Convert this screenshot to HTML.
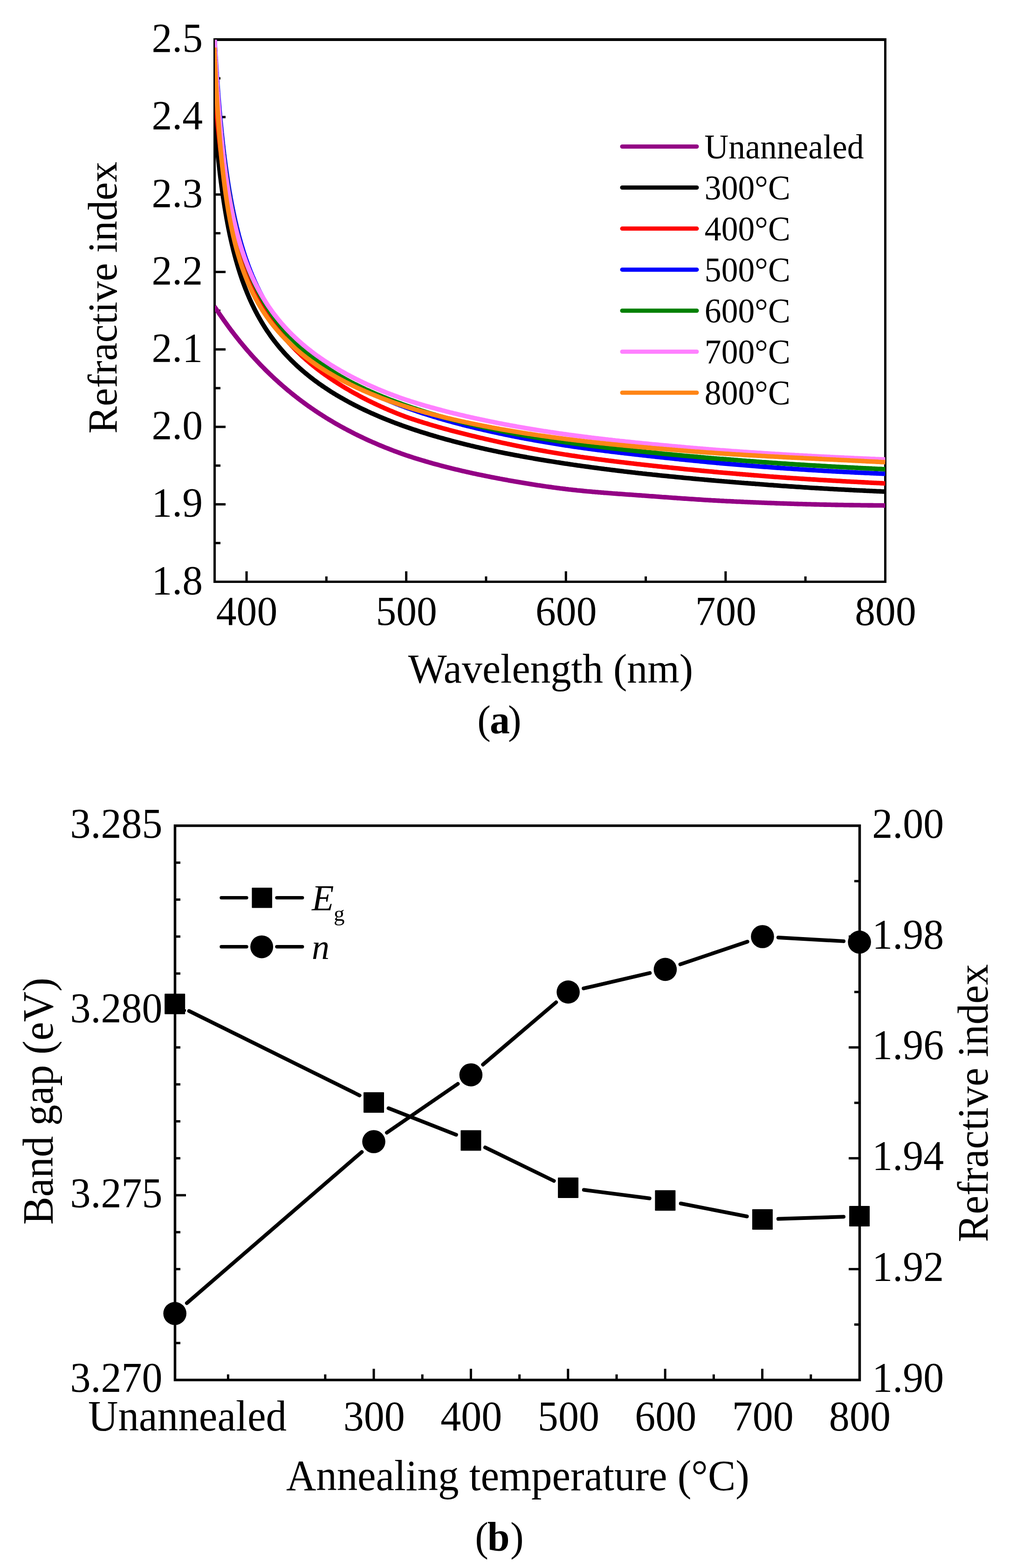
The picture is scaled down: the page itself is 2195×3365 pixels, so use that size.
<!DOCTYPE html>
<html><head><meta charset="utf-8"><title>Figure</title>
<style>html,body{margin:0;padding:0;background:#fff}body{width:2195px;height:3365px;overflow:hidden}</style>
</head><body>
<svg width="2195" height="3365" viewBox="0 0 2195 3365" style="display:block">
<rect width="2195" height="3365" fill="#fff"/>
<g font-family='"Liberation Serif","Times New Roman",serif' fill="#000">
<g stroke="#000" stroke-width="5" fill="none" stroke-linecap="square">
<path d="M460.5,85.0H1899.5V1248.5H460.5Z" stroke-linejoin="miter"/>
<path d="M458.0,85.0H1902.0" stroke-width="6" stroke-linecap="butt"/>
<path d="M458.0,1165.39h15" stroke-linecap="butt"/>
<path d="M458.0,1082.29h26" stroke-linecap="butt"/>
<path d="M458.0,999.18h15" stroke-linecap="butt"/>
<path d="M458.0,916.07h26" stroke-linecap="butt"/>
<path d="M458.0,832.96h15" stroke-linecap="butt"/>
<path d="M458.0,749.86h26" stroke-linecap="butt"/>
<path d="M458.0,666.75h15" stroke-linecap="butt"/>
<path d="M458.0,583.64h26" stroke-linecap="butt"/>
<path d="M458.0,500.54h15" stroke-linecap="butt"/>
<path d="M458.0,417.43h26" stroke-linecap="butt"/>
<path d="M458.0,334.32h15" stroke-linecap="butt"/>
<path d="M458.0,251.21h26" stroke-linecap="butt"/>
<path d="M458.0,168.11h15" stroke-linecap="butt"/>
<path d="M529.02,1251.0v-25" stroke-linecap="butt"/>
<path d="M700.33,1251.0v-14" stroke-linecap="butt"/>
<path d="M871.64,1251.0v-25" stroke-linecap="butt"/>
<path d="M1042.95,1251.0v-14" stroke-linecap="butt"/>
<path d="M1214.26,1251.0v-25" stroke-linecap="butt"/>
<path d="M1385.57,1251.0v-14" stroke-linecap="butt"/>
<path d="M1556.88,1251.0v-25" stroke-linecap="butt"/>
<path d="M1728.19,1251.0v-14" stroke-linecap="butt"/>
</g>
<defs><clipPath id="ca"><rect x="461.0" y="85.0" width="1438.5" height="1163.5"/></clipPath></defs>
<g clip-path="url(#ca)" fill="none" stroke-width="9.8" stroke-linejoin="round">
<polyline points="459.8,657.5 461.5,660.0 463.3,662.5 465.0,665.1 466.7,667.6 468.5,670.2 470.2,672.7 471.9,675.2 473.7,677.8 475.4,680.3 477.1,682.7 478.9,685.2 480.6,687.7 482.4,690.2 484.2,692.7 486.0,695.2 487.8,697.7 489.6,700.2 491.4,702.6 493.2,705.0 495.0,707.5 496.9,710.0 498.8,712.4 500.7,714.9 502.5,717.3 504.4,719.7 506.3,722.1 508.2,724.5 510.0,726.9 511.9,729.2 513.9,731.7 515.8,734.1 517.8,736.4 519.7,738.8 521.7,741.2 523.6,743.5 525.6,745.8 527.5,748.1 529.5,750.5 531.5,752.8 533.6,755.1 535.6,757.4 537.6,759.7 539.6,762.0 541.6,764.2 543.7,766.5 545.7,768.7 547.8,771.0 549.9,773.2 552.0,775.5 554.1,777.7 556.1,779.9 558.2,782.1 560.3,784.3 562.4,786.4 564.6,788.6 566.8,790.8 568.9,793.0 571.1,795.2 573.2,797.3 575.4,799.4 577.6,801.5 579.7,803.6 582.0,805.7 584.2,807.9 586.5,810.0 588.7,812.1 590.9,814.1 593.2,816.2 595.4,818.2 597.6,820.2 599.9,822.3 602.3,824.3 604.6,826.4 606.9,828.4 609.2,830.4 611.5,832.3 613.8,834.3 616.1,836.2 618.4,838.2 620.8,840.1 623.2,842.1 625.6,844.0 627.9,845.9 630.3,847.8 632.7,849.7 635.1,851.6 637.5,853.4 639.9,855.3 642.3,857.2 644.8,859.0 647.2,860.8 649.7,862.7 652.1,864.5 654.6,866.3 657.0,868.1 659.5,869.8 661.9,871.6 664.4,873.3 666.9,875.1 669.4,876.8 672.0,878.5 674.5,880.3 677.0,882.0 679.5,883.6 682.1,885.3 684.6,887.0 687.1,888.6 689.6,890.2 692.2,891.9 694.8,893.5 697.4,895.2 700.0,896.8 702.6,898.4 705.2,900.0 707.8,901.5 710.4,903.1 713.0,904.6 715.6,906.2 718.2,907.7 720.8,909.2 723.5,910.7 726.2,912.2 728.8,913.7 731.5,915.2 734.2,916.7 736.8,918.1 739.5,919.6 742.2,921.0 744.8,922.4 747.5,923.8 750.2,925.2 752.9,926.6 755.5,928.0 758.3,929.4 761.0,930.8 763.7,932.1 766.5,933.5 769.2,934.8 772.0,936.2 774.7,937.5 777.5,938.8 780.2,940.1 782.9,941.4 785.7,942.7 788.4,943.9 791.2,945.2 793.9,946.4 796.7,947.6 799.5,948.9 802.3,950.1 805.1,951.3 807.9,952.5 810.7,953.7 813.5,954.9 816.4,956.1 819.2,957.3 822.0,958.4 824.8,959.6 827.6,960.7 830.4,961.8 833.2,962.9 836.1,964.0 838.9,965.1 841.7,966.2 844.5,967.3 847.3,968.3 850.1,969.4 853.0,970.4 855.9,971.5 858.8,972.5 861.7,973.6 864.6,974.6 867.4,975.6 870.3,976.6 873.2,977.6 876.1,978.5 879.0,979.5 881.9,980.4 884.8,981.4 887.6,982.3 890.5,983.2 893.4,984.1 896.3,985.0 899.2,985.9 902.1,986.8 905.0,987.6 907.9,988.5 910.7,989.3 913.6,990.2 916.5,991.0 919.4,991.9 922.3,992.7 925.2,993.5 928.1,994.4 931.1,995.2 934.0,996.0 937.0,996.8 940.0,997.6 942.9,998.4 945.9,999.2 948.8,1000.0 951.8,1000.8 954.8,1001.5 957.7,1002.3 960.7,1003.0 963.6,1003.8 966.6,1004.5 969.5,1005.3 972.5,1006.0 975.5,1006.7 978.4,1007.4 981.4,1008.1 984.3,1008.8 987.3,1009.5 990.3,1010.2 993.2,1010.9 996.2,1011.6 999.1,1012.3 1002.1,1012.9 1005.0,1013.6 1008.0,1014.3 1011.0,1014.9 1013.9,1015.6 1016.9,1016.2 1019.8,1016.8 1022.8,1017.5 1025.8,1018.1 1028.7,1018.7 1031.7,1019.3 1034.6,1019.9 1037.6,1020.5 1040.6,1021.1 1043.5,1021.7 1046.5,1022.3 1049.4,1022.9 1052.4,1023.5 1055.3,1024.1 1058.3,1024.6 1061.3,1025.2 1064.2,1025.8 1067.2,1026.4 1070.1,1026.9 1073.1,1027.5 1076.1,1028.0 1079.0,1028.6 1082.0,1029.1 1084.9,1029.7 1087.9,1030.2 1090.8,1030.8 1093.8,1031.3 1096.8,1031.8 1099.7,1032.3 1102.7,1032.9 1105.6,1033.4 1108.6,1033.9 1111.6,1034.4 1114.5,1034.9 1117.5,1035.4 1120.4,1035.9 1123.5,1036.4 1126.5,1036.9 1129.5,1037.4 1132.6,1037.9 1135.6,1038.4 1138.6,1038.9 1141.6,1039.4 1144.7,1039.9 1147.7,1040.3 1150.7,1040.8 1153.8,1041.3 1156.8,1041.7 1159.8,1042.2 1162.9,1042.6 1165.9,1043.1 1168.9,1043.5 1172.0,1044.0 1175.0,1044.4 1178.0,1044.8 1181.0,1045.2 1184.1,1045.7 1187.1,1046.1 1190.1,1046.5 1193.2,1046.9 1196.2,1047.3 1199.2,1047.7 1202.3,1048.1 1205.3,1048.4 1208.3,1048.8 1211.4,1049.2 1214.4,1049.6 1217.4,1049.9 1220.4,1050.3 1223.5,1050.6 1226.5,1051.0 1229.5,1051.3 1232.6,1051.6 1235.6,1051.9 1238.6,1052.3 1241.7,1052.6 1244.7,1052.9 1247.7,1053.2 1250.8,1053.5 1253.8,1053.8 1256.8,1054.1 1259.8,1054.4 1262.9,1054.6 1265.9,1054.9 1268.9,1055.2 1272.0,1055.5 1275.0,1055.7 1278.0,1056.0 1281.1,1056.2 1284.1,1056.5 1287.1,1056.7 1290.2,1057.0 1293.2,1057.2 1296.2,1057.5 1299.2,1057.7 1302.3,1057.9 1305.3,1058.2 1308.3,1058.4 1311.4,1058.6 1314.4,1058.9 1317.4,1059.1 1320.5,1059.3 1323.5,1059.5 1326.5,1059.8 1329.5,1060.0 1332.6,1060.2 1335.6,1060.4 1338.6,1060.6 1341.7,1060.9 1344.7,1061.1 1347.7,1061.3 1350.8,1061.5 1353.8,1061.7 1356.8,1061.9 1359.9,1062.2 1362.9,1062.4 1365.9,1062.6 1368.9,1062.8 1372.0,1063.0 1375.0,1063.2 1378.0,1063.5 1381.1,1063.7 1384.1,1063.9 1387.1,1064.1 1390.2,1064.3 1393.2,1064.6 1396.2,1064.8 1399.3,1065.0 1402.3,1065.2 1405.3,1065.4 1408.3,1065.7 1411.4,1065.9 1414.4,1066.1 1417.4,1066.3 1420.5,1066.6 1423.5,1066.8 1426.5,1067.0 1429.6,1067.2 1432.6,1067.4 1435.6,1067.7 1438.7,1067.9 1441.7,1068.1 1444.7,1068.3 1447.7,1068.5 1450.8,1068.7 1453.8,1069.0 1456.8,1069.2 1459.9,1069.4 1462.9,1069.6 1465.9,1069.8 1469.0,1070.0 1472.0,1070.2 1475.0,1070.4 1478.1,1070.6 1481.1,1070.8 1484.1,1071.0 1487.1,1071.2 1490.2,1071.4 1493.2,1071.6 1496.2,1071.8 1499.3,1072.0 1502.3,1072.2 1505.3,1072.4 1508.4,1072.6 1511.4,1072.8 1514.4,1073.0 1517.5,1073.1 1520.5,1073.3 1523.5,1073.5 1526.5,1073.7 1529.6,1073.8 1532.6,1074.0 1535.6,1074.2 1538.7,1074.4 1541.7,1074.5 1544.7,1074.7 1547.8,1074.8 1550.8,1075.0 1553.8,1075.2 1556.9,1075.3 1559.9,1075.5 1562.9,1075.6 1565.9,1075.7 1569.0,1075.9 1572.0,1076.0 1575.0,1076.2 1578.1,1076.3 1581.1,1076.5 1584.1,1076.6 1587.2,1076.7 1590.2,1076.9 1593.2,1077.0 1596.2,1077.2 1599.3,1077.3 1602.3,1077.4 1605.3,1077.6 1608.4,1077.7 1611.4,1077.8 1614.4,1077.9 1617.5,1078.1 1620.5,1078.2 1623.5,1078.3 1626.6,1078.4 1629.6,1078.6 1632.6,1078.7 1635.6,1078.8 1638.7,1078.9 1641.7,1079.1 1644.7,1079.2 1647.8,1079.3 1650.8,1079.4 1653.8,1079.5 1656.9,1079.6 1659.9,1079.7 1662.9,1079.9 1666.0,1080.0 1669.0,1080.1 1672.0,1080.2 1675.0,1080.3 1678.1,1080.4 1681.1,1080.5 1684.1,1080.6 1687.2,1080.7 1690.2,1080.8 1693.2,1080.9 1696.3,1081.0 1699.3,1081.1 1702.3,1081.2 1705.4,1081.3 1708.4,1081.4 1711.4,1081.5 1714.4,1081.6 1717.5,1081.6 1720.5,1081.7 1723.5,1081.8 1726.6,1081.9 1729.6,1082.0 1732.6,1082.1 1735.7,1082.2 1738.7,1082.2 1741.7,1082.3 1744.8,1082.4 1747.8,1082.5 1750.8,1082.5 1753.8,1082.6 1756.9,1082.7 1759.9,1082.8 1762.9,1082.8 1766.0,1082.9 1769.0,1083.0 1772.0,1083.0 1775.1,1083.1 1778.1,1083.2 1781.1,1083.2 1784.2,1083.3 1787.2,1083.3 1790.2,1083.4 1793.2,1083.5 1796.3,1083.5 1799.3,1083.6 1802.3,1083.6 1805.4,1083.7 1808.4,1083.7 1811.4,1083.8 1814.5,1083.8 1817.5,1083.9 1820.5,1083.9 1823.6,1084.0 1826.6,1084.0 1829.6,1084.0 1832.6,1084.1 1835.7,1084.1 1838.7,1084.2 1841.7,1084.2 1844.8,1084.2 1847.8,1084.3 1850.8,1084.3 1853.9,1084.4 1856.9,1084.4 1859.9,1084.4 1863.0,1084.5 1866.0,1084.5 1869.0,1084.5 1872.0,1084.5 1875.1,1084.6 1878.1,1084.6 1881.1,1084.6 1884.2,1084.7 1887.2,1084.7 1890.2,1084.7 1893.3,1084.7 1896.3,1084.8 1899.3,1084.8 1902.3,1084.8 1902.9,1084.8" stroke="#930085"/>
<polyline points="459.8,246.3 460.1,250.0 460.4,253.7 460.7,257.4 461.0,260.9 461.3,264.5 461.5,268.0 461.8,271.5 462.1,274.9 462.4,278.3 462.7,281.7 463.0,285.0 463.3,288.3 463.6,291.5 463.9,294.7 464.1,297.9 464.4,301.0 464.7,304.1 465.0,307.2 465.3,310.2 465.6,313.2 465.9,316.9 466.3,320.6 466.7,324.2 467.0,327.8 467.4,331.3 467.8,334.8 468.1,338.2 468.5,341.6 468.8,344.9 469.2,348.2 469.6,351.5 469.9,354.7 470.3,357.9 470.6,361.1 471.0,364.2 471.4,367.2 471.7,370.3 472.1,373.3 472.5,376.8 472.9,380.3 473.4,383.8 473.8,387.2 474.2,390.6 474.7,393.9 475.1,397.2 475.5,400.4 476.0,403.6 476.4,406.7 476.8,409.8 477.3,412.9 477.7,415.9 478.1,418.9 478.6,422.4 479.2,425.8 479.7,429.1 480.2,432.4 480.7,435.7 481.2,438.9 481.7,442.0 482.2,445.2 482.7,448.2 483.2,451.3 483.7,454.3 484.2,457.2 484.8,460.6 485.4,463.9 485.9,467.1 486.5,470.3 487.1,473.4 487.7,476.5 488.2,479.6 488.8,482.6 489.4,485.6 490.0,488.9 490.7,492.1 491.3,495.3 492.0,498.5 492.6,501.6 493.3,504.7 493.9,507.7 494.6,510.6 495.2,513.6 496.0,516.8 496.7,519.9 497.4,523.0 498.1,526.1 498.9,529.1 499.6,532.1 500.3,535.0 501.1,538.2 501.9,541.3 502.7,544.4 503.5,547.4 504.3,550.4 505.1,553.3 505.9,556.5 506.8,559.6 507.7,562.6 508.5,565.6 509.4,568.6 510.3,571.5 511.2,574.6 512.1,577.7 513.1,580.7 514.0,583.6 514.9,586.6 515.9,589.4 516.9,592.5 517.9,595.5 518.9,598.4 519.9,601.3 520.9,604.1 522.0,607.1 523.1,610.1 524.2,613.0 525.3,615.9 526.3,618.7 527.5,621.6 528.7,624.5 529.8,627.4 531.0,630.2 532.2,633.1 533.4,636.0 534.6,638.9 535.9,641.7 537.1,644.4 538.4,647.3 539.7,650.1 541.0,652.9 542.3,655.6 543.7,658.4 545.0,661.2 546.4,664.0 547.8,666.7 549.2,669.5 550.7,672.2 552.1,674.9 553.5,677.6 555.1,680.3 556.6,683.0 558.1,685.7 559.6,688.3 561.2,691.0 562.8,693.6 564.4,696.3 566.0,698.8 567.6,701.5 569.3,704.1 570.9,706.6 572.6,709.2 574.3,711.7 576.1,714.3 577.8,716.8 579.5,719.3 581.3,721.8 583.1,724.3 584.9,726.7 586.7,729.2 588.6,731.6 590.5,734.1 592.4,736.5 594.2,738.8 596.2,741.2 598.1,743.6 600.1,746.0 602.0,748.3 604.1,750.6 606.1,752.9 608.1,755.2 610.1,757.5 612.1,759.7 614.2,762.0 616.3,764.2 618.4,766.4 620.5,768.6 622.7,770.8 624.8,773.0 627.0,775.1 629.2,777.3 631.3,779.4 633.6,781.5 635.8,783.6 638.0,785.7 640.3,787.7 642.5,789.7 644.8,791.8 647.1,793.8 649.4,795.8 651.8,797.8 654.1,799.7 656.4,801.6 658.8,803.6 661.1,805.5 663.5,807.4 665.9,809.3 668.3,811.2 670.7,813.0 673.1,814.9 675.6,816.7 678.0,818.5 680.5,820.3 682.9,822.1 685.4,823.9 687.8,825.6 690.4,827.4 692.9,829.1 695.4,830.8 697.9,832.5 700.5,834.2 703.0,835.8 705.5,837.5 708.0,839.1 710.6,840.8 713.2,842.4 715.8,844.0 718.4,845.6 721.0,847.2 723.6,848.7 726.2,850.3 728.8,851.8 731.4,853.3 734.1,854.8 736.8,856.3 739.4,857.8 742.1,859.3 744.8,860.8 747.4,862.2 750.1,863.7 752.8,865.1 755.5,866.5 758.1,867.9 760.8,869.3 763.5,870.7 766.3,872.0 769.0,873.4 771.8,874.8 774.5,876.1 777.2,877.4 780.0,878.7 782.7,880.0 785.5,881.3 788.2,882.6 791.0,883.9 793.7,885.1 796.4,886.4 799.2,887.6 802.0,888.8 804.8,890.1 807.6,891.3 810.4,892.5 813.3,893.7 816.1,894.9 818.9,896.1 821.7,897.2 824.5,898.4 827.3,899.5 830.1,900.7 832.9,901.8 835.8,902.9 838.6,904.0 841.4,905.1 844.2,906.2 847.0,907.3 849.8,908.3 852.6,909.4 855.5,910.4 858.3,911.5 861.2,912.5 864.1,913.6 867.0,914.6 869.9,915.6 872.8,916.6 875.7,917.6 878.6,918.6 881.4,919.6 884.3,920.6 887.2,921.6 890.1,922.5 893.0,923.5 895.9,924.4 898.8,925.4 901.6,926.3 904.5,927.2 907.4,928.1 910.3,929.0 913.2,929.9 916.1,930.8 919.0,931.7 921.8,932.6 924.7,933.5 927.6,934.3 930.5,935.2 933.4,936.0 936.3,936.9 939.2,937.7 942.1,938.6 944.9,939.4 947.9,940.2 950.9,941.0 953.8,941.9 956.8,942.7 959.7,943.5 962.7,944.3 965.7,945.1 968.6,945.9 971.6,946.7 974.5,947.5 977.5,948.2 980.4,949.0 983.4,949.8 986.4,950.5 989.3,951.3 992.3,952.0 995.2,952.7 998.2,953.5 1001.2,954.2 1004.1,954.9 1007.1,955.6 1010.0,956.4 1013.0,957.1 1015.9,957.8 1018.9,958.5 1021.9,959.2 1024.8,959.8 1027.8,960.5 1030.7,961.2 1033.7,961.9 1036.7,962.5 1039.6,963.2 1042.6,963.9 1045.5,964.5 1048.5,965.2 1051.4,965.8 1054.4,966.4 1057.4,967.1 1060.3,967.7 1063.3,968.3 1066.2,968.9 1069.2,969.6 1072.2,970.2 1075.1,970.8 1078.1,971.4 1081.0,972.0 1084.0,972.6 1087.0,973.1 1089.9,973.7 1092.9,974.3 1095.8,974.9 1098.8,975.4 1101.7,976.0 1104.7,976.6 1107.7,977.1 1110.6,977.7 1113.6,978.2 1116.5,978.8 1119.5,979.3 1122.5,979.9 1125.4,980.4 1128.4,980.9 1131.3,981.5 1134.3,982.0 1137.2,982.5 1140.2,983.0 1143.2,983.5 1146.1,984.1 1149.1,984.6 1152.0,985.1 1155.0,985.6 1158.0,986.1 1161.0,986.6 1164.0,987.1 1167.0,987.6 1170.1,988.1 1173.1,988.6 1176.1,989.1 1179.2,989.6 1182.2,990.0 1185.2,990.5 1188.3,991.0 1191.3,991.5 1194.3,992.0 1197.4,992.4 1200.4,992.9 1203.4,993.4 1206.4,993.8 1209.5,994.3 1212.5,994.8 1215.5,995.2 1218.6,995.7 1221.6,996.1 1224.6,996.6 1227.7,997.0 1230.7,997.5 1233.7,997.9 1236.8,998.3 1239.8,998.8 1242.8,999.2 1245.8,999.6 1248.9,1000.1 1251.9,1000.5 1254.9,1000.9 1258.0,1001.3 1261.0,1001.7 1264.0,1002.2 1267.1,1002.6 1270.1,1003.0 1273.1,1003.4 1276.2,1003.8 1279.2,1004.2 1282.2,1004.6 1285.2,1005.0 1288.3,1005.4 1291.3,1005.8 1294.3,1006.2 1297.4,1006.6 1300.4,1006.9 1303.4,1007.3 1306.5,1007.7 1309.5,1008.1 1312.5,1008.5 1315.6,1008.8 1318.6,1009.2 1321.6,1009.6 1324.6,1010.0 1327.7,1010.3 1330.7,1010.7 1333.7,1011.0 1336.8,1011.4 1339.8,1011.8 1342.8,1012.1 1345.9,1012.5 1348.9,1012.8 1351.9,1013.2 1354.9,1013.5 1358.0,1013.9 1361.0,1014.2 1364.0,1014.6 1367.1,1014.9 1370.1,1015.3 1373.1,1015.6 1376.2,1015.9 1379.2,1016.3 1382.2,1016.6 1385.3,1016.9 1388.3,1017.3 1391.3,1017.6 1394.3,1017.9 1397.4,1018.2 1400.4,1018.6 1403.4,1018.9 1406.5,1019.2 1409.5,1019.5 1412.5,1019.8 1415.6,1020.2 1418.6,1020.5 1421.6,1020.8 1424.7,1021.1 1427.7,1021.4 1430.7,1021.7 1433.7,1022.0 1436.8,1022.3 1439.8,1022.6 1442.8,1022.9 1445.9,1023.2 1448.9,1023.5 1451.9,1023.8 1455.0,1024.1 1458.0,1024.4 1461.0,1024.7 1464.1,1025.0 1467.1,1025.3 1470.1,1025.6 1473.1,1025.9 1476.2,1026.1 1479.2,1026.4 1482.2,1026.7 1485.3,1027.0 1488.3,1027.3 1491.3,1027.5 1494.4,1027.8 1497.4,1028.1 1500.4,1028.4 1503.5,1028.6 1506.5,1028.9 1509.5,1029.2 1512.5,1029.5 1515.6,1029.7 1518.6,1030.0 1521.6,1030.3 1524.7,1030.5 1527.7,1030.8 1530.7,1031.0 1533.8,1031.3 1536.8,1031.6 1539.8,1031.8 1542.9,1032.1 1545.9,1032.3 1548.9,1032.6 1551.9,1032.8 1555.0,1033.1 1558.0,1033.3 1561.0,1033.6 1564.1,1033.8 1567.1,1034.1 1570.1,1034.3 1573.2,1034.6 1576.2,1034.8 1579.2,1035.1 1582.3,1035.3 1585.3,1035.6 1588.3,1035.8 1591.3,1036.1 1594.4,1036.3 1597.4,1036.6 1600.4,1036.8 1603.5,1037.0 1606.5,1037.3 1609.5,1037.5 1612.6,1037.8 1615.6,1038.0 1618.6,1038.2 1621.6,1038.5 1624.7,1038.7 1627.7,1038.9 1630.7,1039.2 1633.8,1039.4 1636.8,1039.6 1639.8,1039.9 1642.9,1040.1 1645.9,1040.3 1648.9,1040.6 1652.0,1040.8 1655.0,1041.0 1658.0,1041.2 1661.0,1041.5 1664.1,1041.7 1667.1,1041.9 1670.1,1042.1 1673.2,1042.3 1676.2,1042.6 1679.2,1042.8 1682.3,1043.0 1685.3,1043.2 1688.3,1043.4 1691.4,1043.6 1694.4,1043.8 1697.4,1044.0 1700.4,1044.2 1703.5,1044.4 1706.5,1044.6 1709.5,1044.9 1712.6,1045.0 1715.6,1045.2 1718.6,1045.4 1721.7,1045.6 1724.7,1045.8 1727.7,1046.0 1730.8,1046.2 1733.8,1046.4 1736.8,1046.6 1739.8,1046.8 1742.9,1047.0 1745.9,1047.1 1748.9,1047.3 1752.0,1047.5 1755.0,1047.7 1758.0,1047.9 1761.1,1048.0 1764.1,1048.2 1767.1,1048.4 1770.2,1048.6 1773.2,1048.7 1776.2,1048.9 1779.2,1049.1 1782.3,1049.3 1785.3,1049.4 1788.3,1049.6 1791.4,1049.8 1794.4,1049.9 1797.4,1050.1 1800.5,1050.3 1803.5,1050.4 1806.5,1050.6 1809.6,1050.7 1812.6,1050.9 1815.6,1051.1 1818.6,1051.2 1821.7,1051.4 1824.7,1051.5 1827.7,1051.7 1830.8,1051.8 1833.8,1052.0 1836.8,1052.1 1839.9,1052.3 1842.9,1052.4 1845.9,1052.6 1849.0,1052.7 1852.0,1052.9 1855.0,1053.0 1858.0,1053.2 1861.1,1053.3 1864.1,1053.4 1867.1,1053.6 1870.2,1053.7 1873.2,1053.9 1876.2,1054.0 1879.3,1054.1 1882.3,1054.3 1885.3,1054.4 1888.4,1054.5 1891.4,1054.7 1894.4,1054.8 1897.4,1054.9 1900.5,1055.1 1902.9,1055.2" stroke="#000000"/>
<polyline points="459.8,177.4 460.0,180.4 460.3,184.3 460.6,188.2 460.9,192.1 461.2,195.9 461.5,199.6 461.8,203.4 462.1,207.0 462.3,210.7 462.6,214.3 462.9,217.8 463.2,221.3 463.5,224.8 463.8,228.2 464.1,231.6 464.4,235.0 464.6,238.3 464.9,241.6 465.2,244.9 465.5,248.1 465.8,251.3 466.1,254.4 466.4,257.5 466.7,260.6 467.0,263.7 467.2,266.7 467.5,269.7 467.9,273.4 468.3,277.0 468.6,280.6 469.0,284.2 469.3,287.7 469.7,291.2 470.1,294.6 470.4,298.0 470.8,301.3 471.1,304.6 471.5,307.9 471.9,311.1 472.2,314.3 472.6,317.5 472.9,320.6 473.3,323.7 473.7,326.7 474.0,329.7 474.4,332.7 474.8,336.3 475.3,339.7 475.7,343.2 476.1,346.6 476.6,349.9 477.0,353.2 477.4,356.5 477.9,359.7 478.3,362.9 478.7,366.1 479.2,369.2 479.6,372.3 480.0,375.3 480.5,378.3 481.0,381.7 481.5,385.1 482.0,388.5 482.5,391.8 483.0,395.1 483.5,398.3 484.0,401.5 484.5,404.6 485.0,407.7 485.5,410.8 486.0,413.8 486.5,416.8 487.1,420.2 487.7,423.5 488.2,426.8 488.8,430.0 489.4,433.2 490.0,436.3 490.6,439.4 491.1,442.5 491.7,445.5 492.3,448.5 492.9,451.8 493.6,455.0 494.2,458.2 494.9,461.4 495.5,464.5 496.2,467.6 496.8,470.6 497.5,473.6 498.1,476.5 498.9,479.8 499.6,482.9 500.3,486.1 501.0,489.2 501.7,492.2 502.5,495.2 503.2,498.2 503.9,501.1 504.7,504.3 505.5,507.4 506.3,510.5 507.1,513.5 507.9,516.5 508.7,519.4 509.5,522.3 510.3,525.4 511.2,528.5 512.1,531.5 512.9,534.5 513.8,537.4 514.7,540.3 515.6,543.4 516.5,546.4 517.5,549.4 518.4,552.4 519.3,555.3 520.3,558.1 521.3,561.2 522.3,564.2 523.3,567.1 524.3,570.0 525.3,572.8 526.4,575.9 527.5,578.8 528.6,581.7 529.7,584.6 530.7,587.4 531.9,590.4 533.1,593.3 534.2,596.2 535.4,599.1 536.5,601.9 537.7,604.8 539.0,607.7 540.2,610.5 541.4,613.3 542.7,616.0 544.0,618.9 545.3,621.7 546.6,624.5 547.8,627.2 549.2,630.1 550.6,632.9 552.0,635.6 553.3,638.3 554.7,641.0 556.1,643.8 557.6,646.5 559.0,649.2 560.5,651.8 562.0,654.6 563.5,657.3 565.0,659.9 566.5,662.5 568.1,665.2 569.7,667.9 571.3,670.5 572.9,673.1 574.5,675.7 576.2,678.3 577.9,680.9 579.5,683.4 581.3,686.0 583.0,688.6 584.7,691.1 586.5,693.6 588.2,696.0 590.0,698.6 591.8,701.0 593.6,703.5 595.4,705.9 597.3,708.4 599.2,710.8 601.0,713.2 602.9,715.6 604.9,718.0 606.8,720.4 608.8,722.7 610.7,725.0 612.6,727.3 614.7,729.6 616.7,731.9 618.7,734.2 620.7,736.5 622.8,738.7 624.9,741.0 627.0,743.2 629.1,745.4 631.2,747.6 633.4,749.8 635.5,752.0 637.7,754.1 639.9,756.2 642.0,758.3 644.3,760.5 646.5,762.6 648.7,764.7 651.0,766.7 653.2,768.7 655.4,770.7 657.7,772.8 660.1,774.8 662.4,776.8 664.7,778.7 667.0,780.7 669.4,782.6 671.7,784.6 674.1,786.5 676.5,788.4 678.9,790.3 681.3,792.1 683.7,794.0 686.1,795.8 688.6,797.7 691.0,799.5 693.5,801.3 695.9,803.1 698.4,804.8 700.8,806.5 703.4,808.3 705.9,810.1 708.4,811.8 710.9,813.5 713.5,815.2 716.0,816.9 718.5,818.5 721.0,820.2 723.6,821.8 726.2,823.5 728.8,825.1 731.3,826.7 733.9,828.3 736.5,829.9 739.1,831.5 741.7,833.0 744.3,834.6 746.9,836.1 749.5,837.6 752.2,839.2 754.9,840.7 757.5,842.2 760.2,843.7 762.9,845.2 765.6,846.6 768.2,848.1 770.9,849.5 773.6,851.0 776.2,852.4 778.9,853.8 781.6,855.2 784.2,856.5 787.0,857.9 789.7,859.3 792.5,860.7 795.2,862.0 798.0,863.4 800.7,864.7 803.4,866.0 806.2,867.3 808.9,868.6 811.7,869.9 814.4,871.1 817.1,872.4 819.9,873.6 822.6,874.8 825.4,876.1 828.3,877.3 831.1,878.5 833.9,879.8 836.7,881.0 839.5,882.1 842.3,883.3 845.1,884.5 848.0,885.6 850.8,886.7 853.6,887.9 856.4,889.0 859.2,890.1 862.0,891.2 864.8,892.2 867.7,893.3 870.5,894.4 873.4,895.4 876.2,896.4 879.1,897.4 882.0,898.3 884.9,899.3 887.8,900.2 890.7,901.2 893.6,902.1 896.4,903.0 899.3,904.0 902.2,904.9 905.1,905.8 908.0,906.7 910.9,907.6 913.8,908.4 916.7,909.3 919.5,910.2 922.4,911.1 925.3,911.9 928.2,912.8 931.1,913.6 934.0,914.4 936.9,915.3 939.7,916.1 942.7,916.9 945.7,917.8 948.6,918.6 951.6,919.4 954.5,920.2 957.5,921.0 960.5,921.8 963.4,922.6 966.4,923.4 969.3,924.2 972.3,925.0 975.2,925.8 978.2,926.5 981.2,927.3 984.1,928.1 987.1,928.8 990.0,929.6 993.0,930.3 996.0,931.1 998.9,931.8 1001.9,932.5 1004.8,933.3 1007.8,934.0 1010.8,934.7 1013.7,935.4 1016.7,936.1 1019.6,936.8 1022.6,937.6 1025.5,938.3 1028.5,939.0 1031.5,939.7 1034.4,940.3 1037.4,941.0 1040.3,941.7 1043.3,942.4 1046.3,943.1 1049.2,943.8 1052.2,944.4 1055.1,945.1 1058.1,945.8 1061.0,946.4 1064.0,947.1 1067.0,947.8 1069.9,948.4 1072.9,949.1 1075.8,949.7 1078.8,950.4 1081.8,951.0 1084.7,951.6 1087.7,952.3 1090.6,952.9 1093.6,953.5 1096.5,954.1 1099.5,954.7 1102.5,955.4 1105.4,956.0 1108.4,956.6 1111.3,957.2 1114.3,957.8 1117.3,958.4 1120.2,959.0 1123.2,959.6 1126.1,960.1 1129.1,960.7 1132.0,961.3 1135.0,961.9 1138.0,962.4 1140.9,963.0 1143.9,963.6 1146.8,964.1 1149.8,964.7 1152.8,965.2 1155.7,965.8 1158.7,966.3 1161.6,966.8 1164.6,967.4 1167.6,967.9 1170.5,968.4 1173.5,969.0 1176.4,969.5 1179.4,970.0 1182.3,970.5 1185.3,971.0 1188.3,971.5 1191.2,972.0 1194.3,972.5 1197.3,973.0 1200.3,973.5 1203.3,974.0 1206.4,974.5 1209.4,975.0 1212.4,975.5 1215.5,975.9 1218.5,976.4 1221.5,976.9 1224.6,977.3 1227.6,977.8 1230.6,978.2 1233.6,978.7 1236.7,979.1 1239.7,979.6 1242.7,980.0 1245.8,980.5 1248.8,980.9 1251.8,981.3 1254.9,981.8 1257.9,982.2 1260.9,982.6 1264.0,983.0 1267.0,983.4 1270.0,983.8 1273.0,984.2 1276.1,984.7 1279.1,985.1 1282.1,985.5 1285.2,985.9 1288.2,986.2 1291.2,986.6 1294.3,987.0 1297.3,987.4 1300.3,987.8 1303.4,988.2 1306.4,988.6 1309.4,988.9 1312.4,989.3 1315.5,989.7 1318.5,990.1 1321.5,990.4 1324.6,990.8 1327.6,991.2 1330.6,991.5 1333.7,991.9 1336.7,992.2 1339.7,992.6 1342.8,993.0 1345.8,993.3 1348.8,993.7 1351.8,994.0 1354.9,994.4 1357.9,994.7 1360.9,995.1 1364.0,995.4 1367.0,995.8 1370.0,996.1 1373.1,996.4 1376.1,996.8 1379.1,997.1 1382.2,997.5 1385.2,997.8 1388.2,998.1 1391.2,998.5 1394.3,998.8 1397.3,999.1 1400.3,999.5 1403.4,999.8 1406.4,1000.1 1409.4,1000.5 1412.5,1000.8 1415.5,1001.1 1418.5,1001.4 1421.6,1001.8 1424.6,1002.1 1427.6,1002.4 1430.6,1002.7 1433.7,1003.0 1436.7,1003.4 1439.7,1003.7 1442.8,1004.0 1445.8,1004.3 1448.8,1004.6 1451.9,1004.9 1454.9,1005.2 1457.9,1005.5 1461.0,1005.8 1464.0,1006.1 1467.0,1006.5 1470.0,1006.8 1473.1,1007.1 1476.1,1007.4 1479.1,1007.6 1482.2,1007.9 1485.2,1008.2 1488.2,1008.5 1491.3,1008.8 1494.3,1009.1 1497.3,1009.4 1500.4,1009.7 1503.4,1010.0 1506.4,1010.3 1509.4,1010.5 1512.5,1010.8 1515.5,1011.1 1518.5,1011.4 1521.6,1011.7 1524.6,1011.9 1527.6,1012.2 1530.7,1012.5 1533.7,1012.8 1536.7,1013.0 1539.7,1013.3 1542.8,1013.6 1545.8,1013.8 1548.8,1014.1 1551.9,1014.4 1554.9,1014.6 1557.9,1014.9 1561.0,1015.2 1564.0,1015.4 1567.0,1015.7 1570.1,1015.9 1573.1,1016.2 1576.1,1016.4 1579.1,1016.7 1582.2,1017.0 1585.2,1017.2 1588.2,1017.5 1591.3,1017.7 1594.3,1018.0 1597.3,1018.2 1600.4,1018.5 1603.4,1018.7 1606.4,1019.0 1609.5,1019.2 1612.5,1019.5 1615.5,1019.7 1618.5,1020.0 1621.6,1020.2 1624.6,1020.4 1627.6,1020.7 1630.7,1020.9 1633.7,1021.2 1636.7,1021.4 1639.8,1021.6 1642.8,1021.9 1645.8,1022.1 1648.9,1022.3 1651.9,1022.6 1654.9,1022.8 1657.9,1023.0 1661.0,1023.3 1664.0,1023.5 1667.0,1023.7 1670.1,1023.9 1673.1,1024.2 1676.1,1024.4 1679.2,1024.6 1682.2,1024.8 1685.2,1025.0 1688.3,1025.3 1691.3,1025.5 1694.3,1025.7 1697.3,1025.9 1700.4,1026.1 1703.4,1026.3 1706.4,1026.5 1709.5,1026.7 1712.5,1026.9 1715.5,1027.1 1718.6,1027.3 1721.6,1027.5 1724.6,1027.7 1727.7,1027.9 1730.7,1028.1 1733.7,1028.3 1736.7,1028.5 1739.8,1028.7 1742.8,1028.8 1745.8,1029.0 1748.9,1029.2 1751.9,1029.4 1754.9,1029.6 1758.0,1029.8 1761.0,1030.0 1764.0,1030.1 1767.1,1030.3 1770.1,1030.5 1773.1,1030.7 1776.1,1030.9 1779.2,1031.0 1782.2,1031.2 1785.2,1031.4 1788.3,1031.6 1791.3,1031.7 1794.3,1031.9 1797.4,1032.1 1800.4,1032.2 1803.4,1032.4 1806.4,1032.6 1809.5,1032.8 1812.5,1032.9 1815.5,1033.1 1818.6,1033.3 1821.6,1033.4 1824.6,1033.6 1827.7,1033.8 1830.7,1033.9 1833.7,1034.1 1836.8,1034.2 1839.8,1034.4 1842.8,1034.6 1845.8,1034.7 1848.9,1034.9 1851.9,1035.0 1854.9,1035.2 1858.0,1035.4 1861.0,1035.5 1864.0,1035.7 1867.1,1035.8 1870.1,1036.0 1873.1,1036.1 1876.2,1036.3 1879.2,1036.4 1882.2,1036.6 1885.2,1036.7 1888.3,1036.9 1891.3,1037.0 1894.3,1037.2 1897.4,1037.3 1900.4,1037.5 1902.9,1037.6" stroke="#ff0000"/>
<polyline points="459.8,72.9 460.0,76.9 460.2,80.9 460.5,84.9 460.7,88.8 460.9,92.6 461.1,96.5 461.3,100.2 461.5,104.0 461.8,107.7 462.0,111.3 462.2,115.0 462.4,118.6 462.6,122.1 462.8,125.6 463.1,129.1 463.3,132.6 463.5,136.0 463.7,139.4 463.9,142.7 464.1,146.0 464.4,149.3 464.6,152.5 464.8,155.8 465.0,158.9 465.2,162.1 465.4,165.2 465.7,168.3 465.9,171.4 466.1,174.4 466.3,177.4 466.6,181.4 466.9,185.3 467.2,189.2 467.5,193.0 467.8,196.8 468.0,200.5 468.3,204.2 468.6,207.9 468.9,211.5 469.2,215.1 469.5,218.6 469.8,222.1 470.1,225.5 470.4,228.9 470.6,232.3 470.9,235.6 471.2,238.9 471.5,242.2 471.8,245.4 472.1,248.6 472.4,251.7 472.7,254.8 472.9,257.9 473.2,261.0 473.5,264.0 473.8,267.0 474.2,270.7 474.5,274.3 474.9,277.9 475.3,281.5 475.6,285.0 476.0,288.4 476.3,291.9 476.7,295.2 477.1,298.6 477.4,301.9 477.8,305.1 478.1,308.3 478.5,311.5 478.9,314.7 479.2,317.8 479.6,320.8 479.9,323.9 480.3,326.9 480.7,330.4 481.2,333.9 481.6,337.4 482.0,340.8 482.5,344.2 482.9,347.5 483.3,350.8 483.8,354.0 484.2,357.2 484.6,360.4 485.1,363.5 485.5,366.6 485.9,369.6 486.4,372.6 486.9,376.1 487.4,379.5 487.9,382.9 488.4,386.2 488.9,389.4 489.4,392.7 489.9,395.9 490.4,399.0 490.9,402.1 491.4,405.2 491.9,408.2 492.4,411.2 493.0,414.5 493.6,417.8 494.2,421.1 494.7,424.3 495.3,427.5 495.9,430.6 496.5,433.7 497.0,436.7 497.6,439.7 498.2,442.7 498.9,446.0 499.5,449.2 500.2,452.4 500.8,455.5 501.5,458.6 502.1,461.7 502.7,464.7 503.4,467.7 504.1,470.9 504.8,474.1 505.6,477.3 506.3,480.4 507.0,483.4 507.7,486.4 508.5,489.4 509.2,492.3 510.0,495.5 510.8,498.6 511.6,501.7 512.3,504.7 513.1,507.7 513.9,510.6 514.7,513.5 515.6,516.7 516.5,519.7 517.3,522.7 518.2,525.7 519.1,528.6 519.9,531.5 520.9,534.6 521.8,537.6 522.7,540.6 523.7,543.5 524.6,546.4 525.6,549.5 526.6,552.5 527.6,555.5 528.7,558.4 529.7,561.2 530.7,564.1 531.8,567.1 532.8,570.0 533.9,572.9 535.0,575.7 536.1,578.5 537.2,581.5 538.4,584.4 539.6,587.2 540.7,590.0 541.9,593.0 543.2,595.8 544.4,598.7 545.6,601.5 546.8,604.2 548.1,607.1 549.4,609.9 550.7,612.7 552.0,615.4 553.4,618.2 554.8,621.0 556.1,623.8 557.5,626.5 559.0,629.3 560.4,632.0 561.8,634.7 563.3,637.4 564.8,640.2 566.3,642.9 567.8,645.5 569.4,648.2 570.9,650.9 572.5,653.5 574.1,656.2 575.7,658.8 577.4,661.4 579.0,664.0 580.7,666.6 582.3,669.1 584.1,671.7 585.8,674.3 587.5,676.8 589.3,679.3 591.1,681.9 592.9,684.4 594.7,686.8 596.5,689.3 598.3,691.7 600.2,694.1 602.0,696.6 603.9,698.9 605.8,701.3 607.7,703.7 609.7,706.1 611.6,708.4 613.6,710.7 615.6,713.0 617.6,715.3 619.6,717.6 621.7,719.9 623.8,722.2 625.9,724.4 627.9,726.7 630.0,728.9 632.1,731.0 634.3,733.2 636.5,735.4 638.6,737.6 640.8,739.7 643.0,741.8 645.2,743.9 647.4,746.0 649.7,748.1 651.9,750.1 654.1,752.1 656.4,754.2 658.8,756.2 661.1,758.2 663.4,760.2 665.7,762.1 668.0,764.1 670.4,766.0 672.8,768.0 675.1,769.9 677.5,771.8 679.9,773.6 682.3,775.5 684.7,777.3 687.2,779.2 689.6,781.0 692.1,782.8 694.5,784.6 697.0,786.3 699.5,788.1 702.0,789.8 704.5,791.6 707.0,793.3 709.6,795.0 712.1,796.7 714.6,798.3 717.1,800.0 719.7,801.6 722.3,803.3 724.9,804.9 727.5,806.5 730.1,808.1 732.6,809.7 735.2,811.2 737.8,812.8 740.4,814.3 743.0,815.8 745.7,817.4 748.4,818.9 751.0,820.4 753.7,821.9 756.4,823.3 759.1,824.8 761.7,826.2 764.4,827.6 767.1,829.0 769.7,830.4 772.4,831.8 775.2,833.2 777.9,834.6 780.6,836.0 783.4,837.3 786.1,838.7 788.9,840.0 791.6,841.3 794.3,842.6 797.1,843.9 799.8,845.2 802.6,846.4 805.3,847.7 808.1,848.9 810.8,850.2 813.6,851.4 816.4,852.7 819.2,853.9 822.1,855.1 824.9,856.3 827.7,857.5 830.5,858.7 833.3,859.8 836.1,861.0 838.9,862.1 841.8,863.3 844.6,864.4 847.4,865.5 850.2,866.6 853.0,867.7 855.8,868.8 858.6,869.8 861.5,870.9 864.3,872.0 867.1,873.0 870.0,874.1 872.9,875.1 875.7,876.2 878.6,877.2 881.5,878.2 884.4,879.2 887.3,880.2 890.2,881.2 893.1,882.2 895.9,883.2 898.8,884.1 901.7,885.1 904.6,886.0 907.5,887.0 910.4,887.9 913.3,888.8 916.1,889.7 919.0,890.6 921.9,891.5 924.8,892.4 927.7,893.3 930.6,894.2 933.5,895.1 936.4,895.9 939.2,896.8 942.1,897.7 945.0,898.5 947.9,899.3 950.8,900.2 953.7,901.0 956.6,901.8 959.5,902.7 962.5,903.5 965.4,904.3 968.4,905.1 971.4,905.9 974.3,906.7 977.3,907.5 980.2,908.3 983.2,909.1 986.1,909.9 989.1,910.6 992.1,911.4 995.0,912.2 998.0,912.9 1000.9,913.7 1003.9,914.4 1006.9,915.1 1009.8,915.9 1012.8,916.6 1015.7,917.3 1018.7,918.0 1021.6,918.7 1024.6,919.5 1027.6,920.2 1030.5,920.8 1033.5,921.5 1036.4,922.2 1039.4,922.9 1042.4,923.6 1045.3,924.3 1048.3,924.9 1051.2,925.6 1054.2,926.2 1057.1,926.9 1060.1,927.5 1063.1,928.2 1066.0,928.8 1069.0,929.5 1071.9,930.1 1074.9,930.7 1077.9,931.3 1080.8,932.0 1083.8,932.6 1086.7,933.2 1089.7,933.8 1092.7,934.4 1095.6,935.0 1098.6,935.6 1101.5,936.2 1104.5,936.8 1107.4,937.3 1110.4,937.9 1113.4,938.5 1116.3,939.1 1119.3,939.6 1122.2,940.2 1125.2,940.8 1128.2,941.3 1131.1,941.9 1134.1,942.4 1137.0,943.0 1140.0,943.5 1142.9,944.0 1145.9,944.6 1148.9,945.1 1151.8,945.6 1154.8,946.1 1157.7,946.7 1160.7,947.2 1163.7,947.7 1166.6,948.2 1169.6,948.7 1172.5,949.2 1175.5,949.7 1178.5,950.2 1181.6,950.7 1184.6,951.2 1187.6,951.7 1190.6,952.2 1193.7,952.7 1196.7,953.2 1199.7,953.7 1202.8,954.2 1205.8,954.6 1208.8,955.1 1211.9,955.6 1214.9,956.1 1217.9,956.5 1220.9,957.0 1224.0,957.4 1227.0,957.9 1230.0,958.3 1233.1,958.8 1236.1,959.2 1239.1,959.7 1242.2,960.1 1245.2,960.5 1248.2,961.0 1251.3,961.4 1254.3,961.8 1257.3,962.2 1260.3,962.6 1263.4,963.1 1266.4,963.5 1269.4,963.9 1272.5,964.3 1275.5,964.7 1278.5,965.1 1281.6,965.5 1284.6,965.8 1287.6,966.2 1290.7,966.6 1293.7,967.0 1296.7,967.4 1299.7,967.8 1302.8,968.1 1305.8,968.5 1308.8,968.9 1311.9,969.3 1314.9,969.6 1317.9,970.0 1321.0,970.4 1324.0,970.7 1327.0,971.1 1330.1,971.4 1333.1,971.8 1336.1,972.1 1339.1,972.5 1342.2,972.8 1345.2,973.2 1348.2,973.5 1351.3,973.9 1354.3,974.2 1357.3,974.6 1360.4,974.9 1363.4,975.3 1366.4,975.6 1369.5,975.9 1372.5,976.3 1375.5,976.6 1378.5,977.0 1381.6,977.3 1384.6,977.6 1387.6,978.0 1390.7,978.3 1393.7,978.6 1396.7,979.0 1399.8,979.3 1402.8,979.6 1405.8,980.0 1408.9,980.3 1411.9,980.6 1414.9,980.9 1417.9,981.3 1421.0,981.6 1424.0,981.9 1427.0,982.3 1430.1,982.6 1433.1,982.9 1436.1,983.2 1439.2,983.5 1442.2,983.9 1445.2,984.2 1448.3,984.5 1451.3,984.8 1454.3,985.1 1457.3,985.5 1460.4,985.8 1463.4,986.1 1466.4,986.4 1469.5,986.7 1472.5,987.0 1475.5,987.3 1478.6,987.6 1481.6,987.9 1484.6,988.2 1487.7,988.5 1490.7,988.8 1493.7,989.1 1496.7,989.4 1499.8,989.7 1502.8,990.0 1505.8,990.3 1508.9,990.6 1511.9,990.9 1514.9,991.2 1518.0,991.5 1521.0,991.8 1524.0,992.1 1527.0,992.3 1530.1,992.6 1533.1,992.9 1536.1,993.2 1539.2,993.5 1542.2,993.7 1545.2,994.0 1548.3,994.3 1551.3,994.5 1554.3,994.8 1557.4,995.1 1560.4,995.3 1563.4,995.6 1566.4,995.8 1569.5,996.1 1572.5,996.4 1575.5,996.6 1578.6,996.9 1581.6,997.1 1584.6,997.4 1587.7,997.6 1590.7,997.9 1593.7,998.1 1596.8,998.4 1599.8,998.6 1602.8,998.9 1605.8,999.1 1608.9,999.4 1611.9,999.6 1614.9,999.9 1618.0,1000.1 1621.0,1000.3 1624.0,1000.6 1627.1,1000.8 1630.1,1001.1 1633.1,1001.3 1636.2,1001.5 1639.2,1001.8 1642.2,1002.0 1645.2,1002.2 1648.3,1002.4 1651.3,1002.7 1654.3,1002.9 1657.4,1003.1 1660.4,1003.4 1663.4,1003.6 1666.5,1003.8 1669.5,1004.0 1672.5,1004.2 1675.6,1004.5 1678.6,1004.7 1681.6,1004.9 1684.6,1005.1 1687.7,1005.3 1690.7,1005.5 1693.7,1005.7 1696.8,1005.9 1699.8,1006.1 1702.8,1006.3 1705.9,1006.5 1708.9,1006.7 1711.9,1006.9 1715.0,1007.1 1718.0,1007.3 1721.0,1007.5 1724.0,1007.7 1727.1,1007.9 1730.1,1008.1 1733.1,1008.3 1736.2,1008.5 1739.2,1008.7 1742.2,1008.9 1745.3,1009.0 1748.3,1009.2 1751.3,1009.4 1754.4,1009.6 1757.4,1009.8 1760.4,1009.9 1763.4,1010.1 1766.5,1010.3 1769.5,1010.5 1772.5,1010.6 1775.6,1010.8 1778.6,1011.0 1781.6,1011.1 1784.7,1011.3 1787.7,1011.5 1790.7,1011.6 1793.7,1011.8 1796.8,1012.0 1799.8,1012.1 1802.8,1012.3 1805.9,1012.4 1808.9,1012.6 1811.9,1012.8 1815.0,1012.9 1818.0,1013.1 1821.0,1013.2 1824.1,1013.4 1827.1,1013.5 1830.1,1013.7 1833.1,1013.8 1836.2,1014.0 1839.2,1014.1 1842.2,1014.3 1845.3,1014.4 1848.3,1014.5 1851.3,1014.7 1854.4,1014.8 1857.4,1015.0 1860.4,1015.1 1863.5,1015.2 1866.5,1015.4 1869.5,1015.5 1872.5,1015.7 1875.6,1015.8 1878.6,1015.9 1881.6,1016.0 1884.7,1016.2 1887.7,1016.3 1890.7,1016.4 1893.8,1016.6 1896.8,1016.7 1899.8,1016.8 1902.9,1016.9 1902.9,1017.0" stroke="#0000ff"/>
<polyline points="459.8,92.6 460.0,96.5 460.2,100.4 460.5,104.2 460.7,108.0 460.9,111.8 461.1,115.5 461.3,119.2 461.5,122.8 461.8,126.4 462.0,130.0 462.2,133.5 462.4,137.0 462.6,140.4 462.8,143.8 463.1,147.2 463.3,150.6 463.5,153.9 463.7,157.2 463.9,160.4 464.1,163.6 464.4,166.8 464.6,170.0 464.8,173.1 465.0,176.2 465.2,179.3 465.4,182.3 465.7,185.3 465.9,189.3 466.2,193.2 466.5,197.1 466.8,200.9 467.1,204.7 467.4,208.4 467.7,212.1 468.0,215.8 468.3,219.4 468.5,222.9 468.8,226.5 469.1,229.9 469.4,233.4 469.7,236.8 470.0,240.1 470.3,243.5 470.6,246.8 470.9,250.0 471.1,253.2 471.4,256.4 471.7,259.6 472.0,262.7 472.3,265.8 472.6,268.8 472.9,271.8 473.2,275.5 473.6,279.2 474.0,282.8 474.3,286.4 474.7,290.0 475.0,293.5 475.4,296.9 475.8,300.3 476.1,303.7 476.5,307.0 476.8,310.3 477.2,313.5 477.6,316.7 477.9,319.9 478.3,323.0 478.6,326.1 479.0,329.1 479.4,332.2 479.7,335.1 480.2,338.7 480.6,342.2 481.0,345.6 481.5,349.0 481.9,352.4 482.3,355.7 482.8,358.9 483.2,362.1 483.6,365.3 484.1,368.5 484.5,371.6 484.9,374.6 485.4,377.6 485.8,380.6 486.3,384.0 486.8,387.4 487.3,390.8 487.8,394.1 488.3,397.3 488.8,400.5 489.3,403.7 489.8,406.8 490.3,409.9 490.8,412.9 491.3,415.9 491.9,419.3 492.5,422.6 493.1,425.9 493.7,429.1 494.2,432.3 494.8,435.4 495.4,438.5 496.0,441.6 496.5,444.6 497.1,447.5 497.8,450.8 498.4,454.1 499.1,457.3 499.7,460.4 500.4,463.5 501.0,466.6 501.7,469.6 502.3,472.5 503.0,475.8 503.8,479.0 504.5,482.1 505.2,485.2 505.9,488.3 506.6,491.3 507.4,494.3 508.1,497.2 508.9,500.3 509.7,503.5 510.5,506.5 511.3,509.5 512.1,512.5 512.9,515.4 513.7,518.6 514.6,521.7 515.4,524.7 516.3,527.7 517.2,530.7 518.0,533.6 519.0,536.7 519.9,539.7 520.9,542.7 521.8,545.7 522.7,548.6 523.7,551.5 524.7,554.5 525.7,557.5 526.7,560.4 527.7,563.3 528.7,566.1 529.8,569.1 530.9,572.1 532.0,575.0 533.1,577.8 534.1,580.6 535.3,583.6 536.4,586.5 537.6,589.3 538.8,592.1 540.0,595.1 541.2,597.9 542.4,600.8 543.7,603.6 544.9,606.3 546.2,609.2 547.5,612.0 548.8,614.7 550.1,617.5 551.5,620.3 552.8,623.1 554.2,625.8 555.6,628.5 557.0,631.3 558.5,634.0 559.9,636.7 561.3,639.3 562.9,642.1 564.4,644.7 565.9,647.4 567.4,650.0 569.0,652.7 570.6,655.3 572.2,657.9 573.8,660.5 575.4,663.1 577.1,665.7 578.7,668.2 580.4,670.7 582.1,673.3 583.9,675.8 585.6,678.3 587.4,680.8 589.2,683.3 591.0,685.8 592.8,688.2 594.7,690.7 596.6,693.2 598.4,695.6 600.3,697.9 602.3,700.4 604.2,702.8 606.2,705.1 608.1,707.4 610.1,709.8 612.1,712.1 614.2,714.4 616.2,716.6 618.2,718.9 620.3,721.1 622.4,723.4 624.5,725.6 626.6,727.7 628.7,729.9 630.9,732.1 633.1,734.3 635.2,736.4 637.4,738.5 639.6,740.6 641.9,742.7 644.1,744.7 646.3,746.8 648.6,748.8 650.9,750.8 653.2,752.8 655.5,754.8 657.8,756.8 660.1,758.7 662.5,760.7 664.9,762.6 667.3,764.5 669.7,766.4 672.0,768.3 674.4,770.1 676.9,772.0 679.3,773.8 681.8,775.7 684.2,777.5 686.7,779.2 689.1,781.0 691.6,782.7 694.1,784.5 696.6,786.2 699.2,787.9 701.7,789.6 704.2,791.3 706.7,792.9 709.3,794.6 711.9,796.2 714.5,797.9 717.1,799.5 719.7,801.1 722.3,802.7 724.9,804.2 727.5,805.7 730.1,807.3 732.6,808.8 735.3,810.3 738.0,811.8 740.7,813.3 743.3,814.8 746.0,816.2 748.7,817.7 751.3,819.1 754.0,820.5 756.7,821.9 759.3,823.3 762.1,824.7 764.8,826.0 767.6,827.4 770.3,828.7 773.1,830.1 775.8,831.4 778.5,832.7 781.3,834.0 784.0,835.3 786.8,836.6 789.5,837.8 792.3,839.0 795.0,840.3 797.8,841.5 800.6,842.8 803.4,844.0 806.3,845.2 809.1,846.4 811.9,847.6 814.7,848.8 817.5,849.9 820.3,851.1 823.1,852.2 826.0,853.3 828.8,854.5 831.6,855.6 834.4,856.7 837.2,857.8 840.0,858.8 842.8,859.9 845.6,861.0 848.5,862.0 851.3,863.1 854.2,864.1 857.1,865.2 859.9,866.2 862.8,867.3 865.7,868.3 868.6,869.3 871.5,870.3 874.4,871.3 877.3,872.3 880.1,873.3 883.0,874.3 885.9,875.3 888.8,876.3 891.7,877.2 894.6,878.2 897.5,879.1 900.3,880.0 903.2,881.0 906.1,881.9 909.0,882.8 911.9,883.7 914.8,884.6 917.7,885.5 920.6,886.4 923.4,887.3 926.3,888.1 929.2,889.0 932.1,889.8 935.0,890.7 937.9,891.5 940.8,892.4 943.6,893.2 946.5,894.0 949.5,894.8 952.4,895.7 955.4,896.5 958.4,897.3 961.3,898.1 964.3,898.9 967.2,899.7 970.2,900.5 973.2,901.3 976.1,902.0 979.1,902.8 982.0,903.6 985.0,904.3 987.9,905.1 990.9,905.8 993.9,906.6 996.8,907.3 999.8,908.0 1002.7,908.8 1005.7,909.5 1008.7,910.2 1011.6,910.9 1014.6,911.6 1017.5,912.3 1020.5,913.0 1023.5,913.7 1026.4,914.4 1029.4,915.0 1032.3,915.7 1035.3,916.4 1038.2,917.0 1041.2,917.7 1044.2,918.3 1047.1,919.0 1050.1,919.6 1053.0,920.3 1056.0,920.9 1059.0,921.5 1061.9,922.1 1064.9,922.8 1067.8,923.4 1070.8,924.0 1073.7,924.6 1076.7,925.2 1079.7,925.8 1082.6,926.4 1085.6,927.0 1088.5,927.6 1091.5,928.2 1094.5,928.7 1097.4,929.3 1100.4,929.9 1103.3,930.4 1106.3,931.0 1109.2,931.6 1112.2,932.1 1115.2,932.7 1118.1,933.2 1121.1,933.8 1124.0,934.3 1127.0,934.8 1130.0,935.4 1132.9,935.9 1135.9,936.4 1138.8,937.0 1141.8,937.5 1144.7,938.0 1147.7,938.5 1150.7,939.0 1153.6,939.5 1156.6,940.0 1159.5,940.5 1162.6,941.0 1165.6,941.5 1168.6,942.0 1171.7,942.5 1174.7,943.0 1177.7,943.5 1180.8,944.0 1183.8,944.5 1186.8,945.0 1189.8,945.4 1192.9,945.9 1195.9,946.4 1198.9,946.8 1202.0,947.3 1205.0,947.8 1208.0,948.2 1211.1,948.7 1214.1,949.1 1217.1,949.6 1220.2,950.0 1223.2,950.4 1226.2,950.9 1229.2,951.3 1232.3,951.7 1235.3,952.2 1238.3,952.6 1241.4,953.0 1244.4,953.4 1247.4,953.8 1250.5,954.2 1253.5,954.6 1256.5,955.0 1259.6,955.4 1262.6,955.8 1265.6,956.2 1268.6,956.6 1271.7,957.0 1274.7,957.4 1277.7,957.7 1280.8,958.1 1283.8,958.5 1286.8,958.9 1289.9,959.2 1292.9,959.6 1295.9,960.0 1299.0,960.3 1302.0,960.7 1305.0,961.0 1308.0,961.4 1311.1,961.8 1314.1,962.1 1317.1,962.5 1320.2,962.8 1323.2,963.1 1326.2,963.5 1329.3,963.8 1332.3,964.2 1335.3,964.5 1338.4,964.8 1341.4,965.2 1344.4,965.5 1347.4,965.8 1350.5,966.2 1353.5,966.5 1356.5,966.8 1359.6,967.2 1362.6,967.5 1365.6,967.8 1368.7,968.1 1371.7,968.5 1374.7,968.8 1377.8,969.1 1380.8,969.4 1383.8,969.7 1386.8,970.1 1389.9,970.4 1392.9,970.7 1395.9,971.0 1399.0,971.3 1402.0,971.6 1405.0,971.9 1408.1,972.2 1411.1,972.5 1414.1,972.9 1417.2,973.2 1420.2,973.5 1423.2,973.8 1426.2,974.1 1429.3,974.3 1432.3,974.6 1435.3,974.9 1438.4,975.2 1441.4,975.5 1444.4,975.8 1447.5,976.1 1450.5,976.4 1453.5,976.7 1456.5,976.9 1459.6,977.2 1462.6,977.5 1465.6,977.8 1468.7,978.1 1471.7,978.3 1474.7,978.6 1477.8,978.9 1480.8,979.2 1483.8,979.4 1486.9,979.7 1489.9,980.0 1492.9,980.2 1495.9,980.5 1499.0,980.8 1502.0,981.0 1505.0,981.3 1508.1,981.5 1511.1,981.8 1514.1,982.1 1517.2,982.3 1520.2,982.6 1523.2,982.8 1526.3,983.1 1529.3,983.3 1532.3,983.6 1535.3,983.8 1538.4,984.1 1541.4,984.3 1544.4,984.6 1547.5,984.8 1550.5,985.0 1553.5,985.3 1556.6,985.5 1559.6,985.8 1562.6,986.0 1565.7,986.2 1568.7,986.5 1571.7,986.7 1574.7,987.0 1577.8,987.2 1580.8,987.4 1583.8,987.7 1586.9,987.9 1589.9,988.1 1592.9,988.4 1596.0,988.6 1599.0,988.8 1602.0,989.1 1605.1,989.3 1608.1,989.5 1611.1,989.8 1614.1,990.0 1617.2,990.2 1620.2,990.4 1623.2,990.7 1626.3,990.9 1629.3,991.1 1632.3,991.3 1635.4,991.6 1638.4,991.8 1641.4,992.0 1644.5,992.2 1647.5,992.4 1650.5,992.7 1653.5,992.9 1656.6,993.1 1659.6,993.3 1662.6,993.5 1665.7,993.7 1668.7,994.0 1671.7,994.2 1674.8,994.4 1677.8,994.6 1680.8,994.8 1683.9,995.0 1686.9,995.2 1689.9,995.4 1692.9,995.6 1696.0,995.8 1699.0,996.0 1702.0,996.2 1705.1,996.4 1708.1,996.6 1711.1,996.8 1714.2,997.0 1717.2,997.2 1720.2,997.4 1723.2,997.5 1726.3,997.7 1729.3,997.9 1732.3,998.1 1735.4,998.3 1738.4,998.5 1741.4,998.6 1744.5,998.8 1747.5,999.0 1750.5,999.2 1753.6,999.4 1756.6,999.5 1759.6,999.7 1762.6,999.9 1765.7,1000.1 1768.7,1000.2 1771.7,1000.4 1774.8,1000.6 1777.8,1000.8 1780.8,1000.9 1783.9,1001.1 1786.9,1001.3 1789.9,1001.4 1793.0,1001.6 1796.0,1001.8 1799.0,1001.9 1802.0,1002.1 1805.1,1002.3 1808.1,1002.4 1811.1,1002.6 1814.2,1002.7 1817.2,1002.9 1820.2,1003.1 1823.3,1003.2 1826.3,1003.4 1829.3,1003.5 1832.4,1003.7 1835.4,1003.9 1838.4,1004.0 1841.4,1004.2 1844.5,1004.3 1847.5,1004.5 1850.5,1004.6 1853.6,1004.8 1856.6,1004.9 1859.6,1005.1 1862.7,1005.2 1865.7,1005.4 1868.7,1005.5 1871.8,1005.7 1874.8,1005.8 1877.8,1006.0 1880.8,1006.1 1883.9,1006.3 1886.9,1006.4 1889.9,1006.5 1893.0,1006.7 1896.0,1006.8 1899.0,1007.0 1902.1,1007.1 1902.9,1007.2" stroke="#008000"/>
<polyline points="459.8,74.1 460.0,77.2 460.1,80.2 460.2,83.2 460.5,87.6 460.7,92.0 460.9,96.4 461.1,100.6 461.3,104.9 461.5,109.0 461.8,113.2 462.0,117.2 462.2,121.3 462.4,125.2 462.6,129.1 462.8,133.0 463.1,136.8 463.3,140.6 463.5,144.4 463.7,148.1 463.9,151.7 464.1,155.3 464.4,158.9 464.6,162.4 464.8,165.9 465.0,169.3 465.2,172.7 465.4,176.1 465.7,179.4 465.9,182.7 466.1,186.0 466.3,189.2 466.5,192.4 466.7,195.6 467.0,198.7 467.2,201.8 467.4,204.8 467.6,207.9 467.9,211.8 468.2,215.8 468.5,219.6 468.8,223.5 469.1,227.2 469.3,230.9 469.6,234.6 469.9,238.2 470.2,241.8 470.5,245.3 470.8,248.8 471.1,252.3 471.4,255.7 471.6,259.0 471.9,262.3 472.2,265.6 472.5,268.8 472.8,272.0 473.1,275.2 473.4,278.3 473.7,281.4 474.0,284.4 474.2,287.4 474.6,291.1 475.0,294.8 475.3,298.4 475.7,301.9 476.1,305.4 476.4,308.9 476.8,312.3 477.1,315.7 477.5,319.0 477.9,322.2 478.2,325.5 478.6,328.6 478.9,331.8 479.3,334.9 479.7,337.9 480.0,341.0 480.4,343.9 480.8,347.5 481.2,350.9 481.7,354.4 482.1,357.7 482.5,361.1 483.0,364.3 483.4,367.6 483.8,370.7 484.3,373.9 484.7,377.0 485.1,380.0 485.6,383.0 486.1,386.5 486.6,389.9 487.1,393.2 487.6,396.5 488.1,399.8 488.6,403.0 489.1,406.2 489.6,409.3 490.1,412.3 490.6,415.3 491.1,418.3 491.7,421.7 492.3,425.0 492.9,428.2 493.4,431.4 494.0,434.5 494.6,437.6 495.2,440.7 495.8,443.7 496.3,446.6 497.0,449.9 497.6,453.1 498.3,456.3 498.9,459.4 499.6,462.5 500.2,465.5 500.9,468.5 501.6,471.7 502.3,474.9 503.0,478.1 503.8,481.1 504.5,484.2 505.2,487.2 505.9,490.1 506.7,493.3 507.5,496.4 508.3,499.5 509.1,502.5 509.9,505.5 510.7,508.4 511.6,511.6 512.4,514.7 513.3,517.7 514.2,520.7 515.0,523.6 515.9,526.5 516.8,529.6 517.8,532.6 518.7,535.6 519.6,538.5 520.6,541.4 521.6,544.4 522.6,547.4 523.6,550.3 524.6,553.2 525.6,556.0 526.7,559.0 527.8,562.0 528.9,564.8 530.0,567.7 531.1,570.7 532.3,573.6 533.4,576.4 534.6,579.3 535.7,582.0 537.0,584.9 538.2,587.8 539.4,590.6 540.6,593.3 541.9,596.2 543.2,599.0 544.5,601.8 545.8,604.5 547.2,607.3 548.6,610.1 549.9,612.8 551.3,615.4 552.8,618.2 554.2,620.9 555.6,623.6 557.2,626.4 558.7,629.1 560.2,631.8 561.7,634.4 563.3,637.1 564.9,639.7 566.5,642.3 568.1,644.9 569.7,647.5 571.4,650.1 573.0,652.7 574.7,655.2 576.4,657.8 578.2,660.3 579.9,662.8 581.6,665.2 583.4,667.8 585.2,670.2 587.0,672.7 588.9,675.2 590.8,677.6 592.7,680.0 594.5,682.4 596.5,684.8 598.4,687.2 600.4,689.5 602.3,691.9 604.3,694.2 606.4,696.5 608.4,698.8 610.4,701.1 612.4,703.3 614.5,705.6 616.6,707.8 618.7,710.0 620.8,712.2 623.0,714.4 625.1,716.6 627.3,718.7 629.5,720.8 631.6,722.9 633.9,725.0 636.1,727.1 638.3,729.2 640.6,731.2 642.8,733.2 645.1,735.2 647.4,737.3 649.7,739.2 652.0,741.2 654.4,743.1 656.7,745.1 659.1,747.0 661.5,749.0 663.9,750.8 666.3,752.7 668.6,754.5 671.1,756.4 673.6,758.3 676.0,760.1 678.5,761.9 680.9,763.7 683.4,765.4 685.8,767.1 688.3,768.9 690.9,770.6 693.4,772.4 695.9,774.1 698.4,775.7 701.0,777.4 703.5,779.0 706.1,780.7 708.7,782.3 711.3,784.0 713.9,785.6 716.5,787.1 719.1,788.7 721.7,790.3 724.3,791.8 726.9,793.3 729.5,794.8 732.1,796.4 734.8,797.9 737.5,799.4 740.2,800.9 742.8,802.3 745.5,803.8 748.2,805.2 750.8,806.6 753.5,808.0 756.2,809.4 758.8,810.8 761.6,812.2 764.3,813.6 767.1,814.9 769.8,816.3 772.6,817.6 775.3,818.9 778.0,820.3 780.8,821.6 783.5,822.8 786.3,824.1 789.0,825.4 791.7,826.6 794.5,827.9 797.2,829.1 800.0,830.3 802.9,831.5 805.7,832.8 808.5,834.0 811.3,835.2 814.1,836.3 816.9,837.5 819.7,838.7 822.6,839.8 825.4,840.9 828.2,842.1 831.0,843.2 833.8,844.3 836.6,845.4 839.4,846.5 842.3,847.5 845.1,848.6 847.9,849.6 850.8,850.7 853.7,851.7 856.5,852.8 859.4,853.8 862.3,854.8 865.2,855.8 868.1,856.8 871.0,857.8 873.9,858.8 876.8,859.7 879.6,860.7 882.5,861.6 885.4,862.5 888.3,863.4 891.2,864.3 894.1,865.2 897.0,866.1 899.8,866.9 902.7,867.8 905.6,868.7 908.5,869.5 911.4,870.4 914.3,871.2 917.2,872.0 920.0,872.8 923.0,873.7 926.0,874.5 928.9,875.3 931.9,876.1 934.8,876.9 937.8,877.7 940.8,878.5 943.7,879.3 946.7,880.1 949.6,880.9 952.6,881.6 955.5,882.4 958.5,883.2 961.5,883.9 964.4,884.7 967.4,885.4 970.3,886.1 973.3,886.9 976.3,887.6 979.2,888.3 982.2,889.0 985.1,889.7 988.1,890.4 991.1,891.1 994.0,891.8 997.0,892.5 999.9,893.2 1002.9,893.9 1005.8,894.5 1008.8,895.2 1011.8,895.9 1014.7,896.5 1017.7,897.2 1020.6,897.8 1023.6,898.5 1026.6,899.1 1029.5,899.8 1032.5,900.4 1035.4,901.0 1038.4,901.6 1041.3,902.3 1044.3,902.9 1047.3,903.5 1050.2,904.1 1053.2,904.7 1056.1,905.3 1059.1,905.9 1062.1,906.5 1065.0,907.1 1068.0,907.7 1070.9,908.3 1073.9,908.8 1076.8,909.4 1079.8,910.0 1082.8,910.6 1085.7,911.1 1088.7,911.7 1091.6,912.2 1094.6,912.8 1097.6,913.3 1100.5,913.9 1103.5,914.4 1106.4,914.9 1109.4,915.5 1112.4,916.0 1115.3,916.5 1118.3,917.0 1121.2,917.5 1124.2,918.0 1127.1,918.6 1130.1,919.1 1133.1,919.6 1136.1,920.1 1139.1,920.6 1142.2,921.1 1145.2,921.6 1148.2,922.1 1151.2,922.6 1154.3,923.0 1157.3,923.5 1160.3,924.0 1163.4,924.5 1166.4,925.0 1169.4,925.4 1172.5,925.9 1175.5,926.4 1178.5,926.8 1181.6,927.3 1184.6,927.7 1187.6,928.2 1190.6,928.6 1193.7,929.1 1196.7,929.5 1199.7,930.0 1202.8,930.4 1205.8,930.8 1208.8,931.3 1211.9,931.7 1214.9,932.1 1217.9,932.5 1220.9,933.0 1224.0,933.4 1227.0,933.8 1230.0,934.2 1233.1,934.6 1236.1,935.0 1239.1,935.4 1242.2,935.8 1245.2,936.2 1248.2,936.6 1251.3,937.0 1254.3,937.4 1257.3,937.7 1260.3,938.1 1263.4,938.5 1266.4,938.9 1269.4,939.3 1272.5,939.6 1275.5,940.0 1278.5,940.4 1281.6,940.7 1284.6,941.1 1287.6,941.5 1290.7,941.8 1293.7,942.2 1296.7,942.5 1299.7,942.9 1302.8,943.2 1305.8,943.6 1308.8,943.9 1311.9,944.2 1314.9,944.6 1317.9,944.9 1321.0,945.3 1324.0,945.6 1327.0,945.9 1330.1,946.3 1333.1,946.6 1336.1,946.9 1339.1,947.2 1342.2,947.6 1345.2,947.9 1348.2,948.2 1351.3,948.5 1354.3,948.8 1357.3,949.1 1360.4,949.4 1363.4,949.8 1366.4,950.1 1369.5,950.4 1372.5,950.7 1375.5,951.0 1378.5,951.3 1381.6,951.6 1384.6,951.9 1387.6,952.2 1390.7,952.5 1393.7,952.8 1396.7,953.1 1399.8,953.4 1402.8,953.6 1405.8,953.9 1408.9,954.2 1411.9,954.5 1414.9,954.8 1417.9,955.1 1421.0,955.4 1424.0,955.7 1427.0,955.9 1430.1,956.2 1433.1,956.5 1436.1,956.8 1439.2,957.1 1442.2,957.4 1445.2,957.6 1448.3,957.9 1451.3,958.2 1454.3,958.5 1457.3,958.7 1460.4,959.0 1463.4,959.3 1466.4,959.5 1469.5,959.8 1472.5,960.1 1475.5,960.3 1478.6,960.6 1481.6,960.9 1484.6,961.1 1487.7,961.4 1490.7,961.6 1493.7,961.9 1496.7,962.2 1499.8,962.4 1502.8,962.7 1505.8,962.9 1508.9,963.2 1511.9,963.4 1514.9,963.7 1518.0,963.9 1521.0,964.2 1524.0,964.4 1527.0,964.6 1530.1,964.9 1533.1,965.1 1536.1,965.4 1539.2,965.6 1542.2,965.8 1545.2,966.1 1548.3,966.3 1551.3,966.5 1554.3,966.7 1557.4,967.0 1560.4,967.2 1563.4,967.4 1566.4,967.6 1569.5,967.9 1572.5,968.1 1575.5,968.3 1578.6,968.5 1581.6,968.7 1584.6,968.9 1587.7,969.2 1590.7,969.4 1593.7,969.6 1596.8,969.8 1599.8,970.0 1602.8,970.2 1605.8,970.4 1608.9,970.6 1611.9,970.8 1614.9,971.0 1618.0,971.2 1621.0,971.4 1624.0,971.6 1627.1,971.8 1630.1,972.0 1633.1,972.2 1636.2,972.4 1639.2,972.6 1642.2,972.8 1645.2,973.0 1648.3,973.2 1651.3,973.4 1654.3,973.6 1657.4,973.8 1660.4,974.0 1663.4,974.2 1666.5,974.3 1669.5,974.5 1672.5,974.7 1675.6,974.9 1678.6,975.1 1681.6,975.3 1684.6,975.4 1687.7,975.6 1690.7,975.8 1693.7,976.0 1696.8,976.1 1699.8,976.3 1702.8,976.5 1705.9,976.7 1708.9,976.8 1711.9,977.0 1715.0,977.2 1718.0,977.3 1721.0,977.5 1724.0,977.7 1727.1,977.8 1730.1,978.0 1733.1,978.2 1736.2,978.3 1739.2,978.5 1742.2,978.7 1745.3,978.8 1748.3,979.0 1751.3,979.1 1754.4,979.3 1757.4,979.5 1760.4,979.6 1763.4,979.8 1766.5,979.9 1769.5,980.1 1772.5,980.2 1775.6,980.4 1778.6,980.5 1781.6,980.7 1784.7,980.8 1787.7,981.0 1790.7,981.1 1793.7,981.3 1796.8,981.4 1799.8,981.6 1802.8,981.7 1805.9,981.9 1808.9,982.0 1811.9,982.2 1815.0,982.3 1818.0,982.4 1821.0,982.6 1824.1,982.7 1827.1,982.9 1830.1,983.0 1833.1,983.2 1836.2,983.3 1839.2,983.4 1842.2,983.6 1845.3,983.7 1848.3,983.8 1851.3,984.0 1854.4,984.1 1857.4,984.2 1860.4,984.4 1863.5,984.5 1866.5,984.6 1869.5,984.8 1872.5,984.9 1875.6,985.0 1878.6,985.2 1881.6,985.3 1884.7,985.4 1887.7,985.6 1890.7,985.7 1893.8,985.8 1896.8,985.9 1899.8,986.1 1902.9,986.2 1902.9,986.2" stroke="#ff80ff"/>
<polyline points="459.8,102.1 460.0,105.5 460.1,108.9 460.2,112.2 460.4,115.5 460.5,118.8 460.7,122.0 460.8,125.2 461.0,128.4 461.1,131.5 461.3,134.6 461.4,137.7 461.5,140.8 461.7,143.8 461.9,148.3 462.1,152.7 462.3,157.0 462.6,161.3 462.8,165.6 463.0,169.7 463.2,173.9 463.4,177.9 463.6,181.9 463.9,185.9 464.1,189.8 464.3,193.6 464.5,197.4 464.7,201.2 464.9,204.9 465.2,208.6 465.4,212.2 465.6,215.7 465.8,219.2 466.0,222.7 466.2,226.2 466.5,229.6 466.7,232.9 466.9,236.2 467.1,239.5 467.3,242.7 467.5,245.9 467.8,249.1 468.0,252.2 468.2,255.3 468.4,258.3 468.6,261.3 468.9,265.3 469.2,269.2 469.5,273.1 469.8,276.8 470.1,280.6 470.4,284.3 470.6,287.9 470.9,291.5 471.2,295.0 471.5,298.5 471.8,301.9 472.1,305.3 472.4,308.6 472.7,311.9 472.9,315.2 473.2,318.4 473.5,321.5 473.8,324.6 474.1,327.7 474.4,330.8 474.7,333.8 475.0,337.5 475.4,341.1 475.8,344.7 476.1,348.2 476.5,351.7 476.8,355.1 477.2,358.5 477.6,361.8 477.9,365.1 478.3,368.3 478.6,371.5 479.0,374.6 479.4,377.7 479.7,380.7 480.1,383.7 480.5,387.3 481.0,390.8 481.4,394.2 481.8,397.6 482.3,400.9 482.7,404.2 483.1,407.4 483.6,410.6 484.0,413.7 484.4,416.8 484.9,419.8 485.3,422.8 485.8,426.2 486.3,429.6 486.8,432.9 487.3,436.2 487.8,439.4 488.3,442.5 488.8,445.6 489.3,448.7 489.8,451.7 490.3,454.6 490.9,457.9 491.5,461.2 492.1,464.4 492.6,467.6 493.2,470.7 493.8,473.7 494.4,476.7 495.0,479.7 495.6,483.0 496.3,486.2 496.9,489.3 497.6,492.4 498.2,495.5 498.9,498.5 499.5,501.4 500.2,504.6 500.9,507.8 501.7,510.9 502.4,513.9 503.1,516.9 503.8,519.8 504.6,523.0 505.4,526.1 506.2,529.2 507.0,532.2 507.8,535.1 508.6,538.1 509.5,541.2 510.3,544.2 511.2,547.2 512.1,550.1 512.9,553.0 513.9,556.1 514.8,559.1 515.7,562.1 516.7,565.0 517.6,567.8 518.6,570.9 519.6,573.8 520.6,576.7 521.7,579.6 522.7,582.6 523.8,585.5 524.9,588.4 526.0,591.2 527.1,594.2 528.3,597.1 529.4,600.0 530.6,602.8 531.8,605.7 533.1,608.6 534.3,611.4 535.5,614.2 536.8,617.0 538.1,619.9 539.4,622.6 540.7,625.3 542.1,628.2 543.4,630.9 544.8,633.6 546.3,636.4 547.7,639.2 549.1,641.9 550.6,644.5 552.1,647.3 553.6,650.0 555.1,652.6 556.7,655.3 558.3,658.0 559.9,660.6 561.5,663.2 563.1,665.8 564.8,668.4 566.5,670.9 568.1,673.4 569.9,676.0 571.6,678.5 573.3,681.0 575.1,683.5 576.9,686.0 578.7,688.5 580.5,690.9 582.4,693.3 584.3,695.7 586.2,698.1 588.1,700.5 590.1,702.9 592.0,705.3 594.0,707.6 596.0,710.0 598.0,712.3 600.0,714.6 602.0,716.8 604.1,719.1 606.2,721.3 608.3,723.6 610.4,725.7 612.6,728.0 614.7,730.2 616.9,732.3 619.1,734.4 621.2,736.5 623.5,738.6 625.7,740.7 627.9,742.8 630.2,744.8 632.4,746.8 634.7,748.9 637.0,750.9 639.3,752.9 641.7,754.8 644.0,756.8 646.3,758.7 648.7,760.6 651.1,762.5 653.5,764.4 655.9,766.3 658.3,768.1 660.7,770.0 663.2,771.8 665.6,773.6 668.1,775.4 670.5,777.1 673.0,778.9 675.5,780.6 678.0,782.4 680.5,784.1 683.1,785.8 685.6,787.5 688.1,789.1 690.7,790.8 693.2,792.4 695.8,794.1 698.4,795.7 701.0,797.3 703.6,798.9 706.2,800.4 708.8,802.0 711.4,803.5 714.0,805.0 716.7,806.5 719.4,808.1 722.0,809.6 724.7,811.0 727.4,812.5 730.1,814.0 732.7,815.4 735.4,816.8 738.1,818.2 740.7,819.6 743.4,820.9 746.1,822.3 748.9,823.7 751.6,825.1 754.4,826.4 757.1,827.8 759.9,829.1 762.6,830.4 765.3,831.7 768.1,832.9 770.8,834.2 773.6,835.4 776.3,836.7 779.0,837.9 781.9,839.1 784.7,840.4 787.5,841.6 790.3,842.8 793.1,844.0 795.9,845.2 798.7,846.3 801.6,847.5 804.4,848.6 807.2,849.8 810.0,850.9 812.8,852.0 815.6,853.1 818.4,854.2 821.3,855.3 824.1,856.3 826.9,857.4 829.7,858.4 832.6,859.5 835.5,860.5 838.4,861.6 841.2,862.6 844.1,863.6 847.0,864.6 849.9,865.6 852.8,866.6 855.7,867.6 858.6,868.6 861.5,869.5 864.3,870.5 867.2,871.4 870.1,872.4 873.0,873.3 875.9,874.2 878.8,875.1 881.7,876.0 884.5,876.8 887.4,877.7 890.3,878.6 893.2,879.4 896.1,880.2 899.0,881.1 901.9,881.9 904.7,882.7 907.7,883.6 910.7,884.4 913.6,885.2 916.6,886.0 919.5,886.8 922.5,887.6 925.5,888.4 928.4,889.2 931.4,890.0 934.3,890.7 937.3,891.5 940.3,892.3 943.2,893.0 946.2,893.8 949.1,894.5 952.1,895.2 955.0,896.0 958.0,896.7 961.0,897.4 963.9,898.1 966.9,898.8 969.8,899.5 972.8,900.2 975.8,900.9 978.7,901.5 981.7,902.2 984.6,902.9 987.6,903.6 990.5,904.2 993.5,904.9 996.5,905.5 999.4,906.2 1002.4,906.8 1005.3,907.4 1008.3,908.1 1011.3,908.7 1014.2,909.3 1017.2,909.9 1020.1,910.5 1023.1,911.1 1026.0,911.7 1029.0,912.3 1032.0,912.9 1034.9,913.5 1037.9,914.1 1040.8,914.7 1043.8,915.2 1046.8,915.8 1049.7,916.4 1052.7,916.9 1055.6,917.5 1058.6,918.0 1061.6,918.6 1064.5,919.1 1067.5,919.7 1070.4,920.2 1073.4,920.8 1076.3,921.3 1079.3,921.8 1082.3,922.3 1085.2,922.9 1088.2,923.4 1091.1,923.9 1094.1,924.4 1097.1,924.9 1100.0,925.4 1103.0,925.9 1106.1,926.4 1109.1,926.9 1112.1,927.4 1115.2,927.9 1118.2,928.4 1121.2,928.9 1124.3,929.3 1127.3,929.8 1130.3,930.3 1133.3,930.8 1136.4,931.2 1139.4,931.7 1142.4,932.2 1145.5,932.6 1148.5,933.1 1151.5,933.5 1154.6,934.0 1157.6,934.4 1160.6,934.9 1163.7,935.3 1166.7,935.7 1169.7,936.2 1172.7,936.6 1175.8,937.0 1178.8,937.4 1181.8,937.9 1184.9,938.3 1187.9,938.7 1190.9,939.1 1194.0,939.5 1197.0,939.9 1200.0,940.3 1203.1,940.7 1206.1,941.1 1209.1,941.5 1212.1,941.9 1215.2,942.3 1218.2,942.7 1221.2,943.0 1224.3,943.4 1227.3,943.8 1230.3,944.2 1233.4,944.5 1236.4,944.9 1239.4,945.3 1242.5,945.6 1245.5,946.0 1248.5,946.4 1251.5,946.7 1254.6,947.1 1257.6,947.4 1260.6,947.8 1263.7,948.1 1266.7,948.4 1269.7,948.8 1272.8,949.1 1275.8,949.5 1278.8,949.8 1281.9,950.1 1284.9,950.4 1287.9,950.8 1290.9,951.1 1294.0,951.4 1297.0,951.7 1300.0,952.1 1303.1,952.4 1306.1,952.7 1309.1,953.0 1312.2,953.3 1315.2,953.6 1318.2,953.9 1321.3,954.2 1324.3,954.5 1327.3,954.8 1330.3,955.1 1333.4,955.4 1336.4,955.7 1339.4,956.0 1342.5,956.3 1345.5,956.6 1348.5,956.9 1351.6,957.2 1354.6,957.5 1357.6,957.7 1360.6,958.0 1363.7,958.3 1366.7,958.6 1369.7,958.9 1372.8,959.1 1375.8,959.4 1378.8,959.7 1381.9,960.0 1384.9,960.2 1387.9,960.5 1391.0,960.8 1394.0,961.0 1397.0,961.3 1400.0,961.6 1403.1,961.8 1406.1,962.1 1409.1,962.4 1412.2,962.6 1415.2,962.9 1418.2,963.1 1421.3,963.4 1424.3,963.7 1427.3,963.9 1430.4,964.2 1433.4,964.4 1436.4,964.7 1439.4,964.9 1442.5,965.2 1445.5,965.4 1448.5,965.7 1451.6,965.9 1454.6,966.2 1457.6,966.4 1460.7,966.7 1463.7,966.9 1466.7,967.2 1469.8,967.4 1472.8,967.6 1475.8,967.9 1478.8,968.1 1481.9,968.4 1484.9,968.6 1487.9,968.8 1491.0,969.1 1494.0,969.3 1497.0,969.5 1500.1,969.7 1503.1,970.0 1506.1,970.2 1509.2,970.4 1512.2,970.6 1515.2,970.9 1518.2,971.1 1521.3,971.3 1524.3,971.5 1527.3,971.7 1530.4,971.9 1533.4,972.2 1536.4,972.4 1539.5,972.6 1542.5,972.8 1545.5,973.0 1548.6,973.2 1551.6,973.4 1554.6,973.6 1557.6,973.8 1560.7,974.0 1563.7,974.2 1566.7,974.4 1569.8,974.6 1572.8,974.8 1575.8,975.0 1578.9,975.2 1581.9,975.3 1584.9,975.5 1588.0,975.7 1591.0,975.9 1594.0,976.1 1597.0,976.3 1600.1,976.5 1603.1,976.6 1606.1,976.8 1609.2,977.0 1612.2,977.2 1615.2,977.4 1618.3,977.5 1621.3,977.7 1624.3,977.9 1627.4,978.1 1630.4,978.2 1633.4,978.4 1636.4,978.6 1639.5,978.7 1642.5,978.9 1645.5,979.1 1648.6,979.3 1651.6,979.4 1654.6,979.6 1657.7,979.7 1660.7,979.9 1663.7,980.1 1666.7,980.2 1669.8,980.4 1672.8,980.6 1675.8,980.7 1678.9,980.9 1681.9,981.0 1684.9,981.2 1688.0,981.4 1691.0,981.5 1694.0,981.7 1697.1,981.8 1700.1,982.0 1703.1,982.1 1706.1,982.3 1709.2,982.4 1712.2,982.6 1715.2,982.7 1718.3,982.9 1721.3,983.0 1724.3,983.2 1727.4,983.3 1730.4,983.5 1733.4,983.6 1736.5,983.8 1739.5,983.9 1742.5,984.1 1745.5,984.2 1748.6,984.4 1751.6,984.5 1754.6,984.7 1757.7,984.8 1760.7,985.0 1763.7,985.2 1766.8,985.3 1769.8,985.5 1772.8,985.6 1775.9,985.8 1778.9,985.9 1781.9,986.1 1784.9,986.2 1788.0,986.4 1791.0,986.5 1794.0,986.7 1797.1,986.8 1800.1,987.0 1803.1,987.1 1806.2,987.3 1809.2,987.4 1812.2,987.6 1815.3,987.7 1818.3,987.9 1821.3,988.0 1824.3,988.2 1827.4,988.3 1830.4,988.5 1833.4,988.6 1836.5,988.8 1839.5,988.9 1842.5,989.1 1845.6,989.2 1848.6,989.4 1851.6,989.5 1854.7,989.7 1857.7,989.8 1860.7,990.0 1863.7,990.1 1866.8,990.3 1869.8,990.4 1872.8,990.6 1875.9,990.7 1878.9,990.9 1881.9,991.0 1885.0,991.2 1888.0,991.3 1891.0,991.5 1894.1,991.6 1897.1,991.7 1900.1,991.9 1902.9,992.0" stroke="#ff8516"/>
</g>
<text transform="translate(435.00 1274.70) scale(0.9900 1.0)" font-size="88.50" text-anchor="end">1.8</text>
<text transform="translate(435.00 1108.49) scale(0.9900 1.0)" font-size="88.50" text-anchor="end">1.9</text>
<text transform="translate(435.00 942.27) scale(0.9900 1.0)" font-size="88.50" text-anchor="end">2.0</text>
<text transform="translate(435.00 776.06) scale(0.9900 1.0)" font-size="88.50" text-anchor="end">2.1</text>
<text transform="translate(435.00 609.84) scale(0.9900 1.0)" font-size="88.50" text-anchor="end">2.2</text>
<text transform="translate(435.00 443.63) scale(0.9900 1.0)" font-size="88.50" text-anchor="end">2.3</text>
<text transform="translate(435.00 277.41) scale(0.9900 1.0)" font-size="88.50" text-anchor="end">2.4</text>
<text transform="translate(435.00 111.20) scale(0.9900 1.0)" font-size="88.50" text-anchor="end">2.5</text>
<text transform="translate(529.52 1341.20) scale(0.9900 1.0)" font-size="88.50" text-anchor="middle">400</text>
<text transform="translate(872.14 1341.20) scale(0.9900 1.0)" font-size="88.50" text-anchor="middle">500</text>
<text transform="translate(1214.76 1341.20) scale(0.9900 1.0)" font-size="88.50" text-anchor="middle">600</text>
<text transform="translate(1557.38 1341.20) scale(0.9900 1.0)" font-size="88.50" text-anchor="middle">700</text>
<text transform="translate(1900.00 1341.20) scale(0.9900 1.0)" font-size="88.50" text-anchor="middle">800</text>
<text transform="translate(249.90 930.50) rotate(-90) scale(0.9936 1.0)" font-size="88.50">Refractive index</text>
<text transform="translate(875.81 1465.00) scale(0.9944 1.0)" font-size="88.50">Wavelength (nm)</text>
<text transform="translate(1024.2 1574) scale(1 1.0)" font-size="86">(</text>
<text transform="translate(1051.1 1574) scale(1 1.0)" font-size="86" font-weight="bold">a</text>
<text transform="translate(1090.1 1574) scale(1 1.0)" font-size="86">)</text>
<path d="M1335,314.50H1495" stroke="#930085" stroke-width="9" stroke-linecap="round"/>
<text transform="translate(1511.60 339.80) scale(0.9746 1.0)" font-size="73.50">Unannealed</text>
<path d="M1335,402.55H1495" stroke="#000000" stroke-width="9" stroke-linecap="round"/>
<text transform="translate(1511.80 427.85) scale(0.9750 1.0)" font-size="73.50">300°C</text>
<path d="M1335,490.60H1495" stroke="#ff0000" stroke-width="9" stroke-linecap="round"/>
<text transform="translate(1511.80 515.90) scale(0.9750 1.0)" font-size="73.50">400°C</text>
<path d="M1335,578.65H1495" stroke="#0000ff" stroke-width="9" stroke-linecap="round"/>
<text transform="translate(1511.80 603.95) scale(0.9750 1.0)" font-size="73.50">500°C</text>
<path d="M1335,666.70H1495" stroke="#008000" stroke-width="9" stroke-linecap="round"/>
<text transform="translate(1511.80 692.00) scale(0.9750 1.0)" font-size="73.50">600°C</text>
<path d="M1335,754.75H1495" stroke="#ff80ff" stroke-width="9" stroke-linecap="round"/>
<text transform="translate(1511.80 780.05) scale(0.9750 1.0)" font-size="73.50">700°C</text>
<path d="M1335,842.80H1495" stroke="#ff8516" stroke-width="9" stroke-linecap="round"/>
<text transform="translate(1511.80 868.10) scale(0.9750 1.0)" font-size="73.50">800°C</text>
<g stroke="#000" stroke-width="5" fill="none">
<path d="M375.5,1772.0H1844.5V2961.5H375.5Z" stroke-linejoin="miter" stroke-width="5.5"/>
<path d="M373.0,1851.30h14"/>
<path d="M373.0,1930.60h14"/>
<path d="M373.0,2009.90h14"/>
<path d="M373.0,2089.20h14"/>
<path d="M373.0,2168.50h26"/>
<path d="M373.0,2247.80h14"/>
<path d="M373.0,2327.10h14"/>
<path d="M373.0,2406.40h14"/>
<path d="M373.0,2485.70h14"/>
<path d="M373.0,2565.00h26"/>
<path d="M373.0,2644.30h14"/>
<path d="M373.0,2723.60h14"/>
<path d="M373.0,2802.90h14"/>
<path d="M373.0,2882.20h14"/>
<path d="M1847.0,1890.95h-14"/>
<path d="M1847.0,2009.90h-26"/>
<path d="M1847.0,2128.85h-14"/>
<path d="M1847.0,2247.80h-26"/>
<path d="M1847.0,2366.75h-14"/>
<path d="M1847.0,2485.70h-26"/>
<path d="M1847.0,2604.65h-14"/>
<path d="M1847.0,2723.60h-26"/>
<path d="M1847.0,2842.55h-14"/>
<path d="M489.40,2964.0v-14.5"/>
<path d="M697.80,2964.0v-14.5"/>
<path d="M802.00,2964.0v-26.5"/>
<path d="M906.20,2964.0v-14.5"/>
<path d="M1010.40,2964.0v-26.5"/>
<path d="M1114.60,2964.0v-14.5"/>
<path d="M1218.80,2964.0v-26.5"/>
<path d="M1323.00,2964.0v-14.5"/>
<path d="M1427.20,2964.0v-26.5"/>
<path d="M1531.40,2964.0v-14.5"/>
<path d="M1635.60,2964.0v-26.5"/>
<path d="M1739.80,2964.0v-14.5"/>
</g>
<g stroke="#000" stroke-width="8" stroke-linecap="round" fill="none">
<path d="M405.67,2169.59L771.53,2350.81"/>
<path d="M833.65,2378.31L978.75,2435.19"/>
<path d="M1040.98,2462.47L1188.52,2534.23"/>
<path d="M1252.82,2553.49L1393.68,2571.81"/>
<path d="M1460.77,2582.73L1602.63,2610.47"/>
<path d="M1669.98,2615.87L1810.12,2611.23"/>
<path d="M400.93,2796.57L776.27,2472.23"/>
<path d="M830.02,2430.74L982.38,2325.96"/>
<path d="M1036.28,2284.65L1193.22,2150.95"/>
<path d="M1252.21,2121.19L1394.29,2088.11"/>
<path d="M1459.61,2069.53L1603.79,2020.87"/>
<path d="M1669.95,2011.92L1810.15,2019.88"/>
</g>
<rect x="354.20" y="2133.50" width="42" height="42" stroke="#000" stroke-width="2" stroke-linejoin="round"/>
<rect x="781.00" y="2344.90" width="42" height="42" stroke="#000" stroke-width="2" stroke-linejoin="round"/>
<rect x="989.40" y="2426.60" width="42" height="42" stroke="#000" stroke-width="2" stroke-linejoin="round"/>
<rect x="1198.10" y="2528.10" width="42" height="42" stroke="#000" stroke-width="2" stroke-linejoin="round"/>
<rect x="1406.40" y="2555.20" width="42" height="42" stroke="#000" stroke-width="2" stroke-linejoin="round"/>
<rect x="1615.00" y="2596.00" width="42" height="42" stroke="#000" stroke-width="2" stroke-linejoin="round"/>
<rect x="1823.10" y="2589.10" width="42" height="42" stroke="#000" stroke-width="2" stroke-linejoin="round"/>
<circle cx="375.20" cy="2818.80" r="24.8"/>
<circle cx="802.00" cy="2450.00" r="24.8"/>
<circle cx="1010.40" cy="2306.70" r="24.8"/>
<circle cx="1219.10" cy="2128.90" r="24.8"/>
<circle cx="1427.40" cy="2080.40" r="24.8"/>
<circle cx="1636.00" cy="2010.00" r="24.8"/>
<circle cx="1844.10" cy="2021.80" r="24.8"/>
<g stroke="#000" stroke-width="7.4" stroke-linecap="round" fill="none">
<path d="M475,1926.6H529M594,1926.6H648.7"/>
<path d="M475,2031.7H529M594,2031.7H648.7"/>
</g>
<rect x="541.4000000000001" y="1906.0" width="41.6" height="41.6" stroke="#000" stroke-width="2" stroke-linejoin="round"/>
<circle cx="561.6" cy="2031.9" r="24.5"/>
<text x="669" y="1952.7" font-size="77.6" font-style="italic">E</text>
<text x="716" y="1975.5" font-size="47">g</text>
<text x="669" y="2058.2" font-size="76" font-style="italic">n</text>
<text transform="translate(348.50 1797.50) scale(0.9950 1.03)" font-size="88.50" text-anchor="end">3.285</text>
<text transform="translate(348.50 2194.00) scale(0.9950 1.03)" font-size="88.50" text-anchor="end">3.280</text>
<text transform="translate(348.50 2590.50) scale(0.9950 1.03)" font-size="88.50" text-anchor="end">3.275</text>
<text transform="translate(348.50 2987.00) scale(0.9950 1.03)" font-size="88.50" text-anchor="end">3.270</text>
<text transform="translate(1871.20 1797.60) scale(0.9950 1.03)" font-size="88.50">2.00</text>
<text transform="translate(1871.20 2035.50) scale(0.9950 1.03)" font-size="88.50">1.98</text>
<text transform="translate(1871.20 2273.40) scale(0.9950 1.03)" font-size="88.50">1.96</text>
<text transform="translate(1871.20 2511.30) scale(0.9950 1.03)" font-size="88.50">1.94</text>
<text transform="translate(1871.20 2749.20) scale(0.9950 1.03)" font-size="88.50">1.92</text>
<text transform="translate(1871.20 2987.10) scale(0.9950 1.03)" font-size="88.50">1.90</text>
<text transform="translate(188.93 3070.00) scale(0.9918 1.03)" font-size="90.00">Unannealed</text>
<text transform="translate(802.80 3070.30) scale(0.9950 1.03)" font-size="88.50" text-anchor="middle">300</text>
<text transform="translate(1011.20 3070.30) scale(0.9950 1.03)" font-size="88.50" text-anchor="middle">400</text>
<text transform="translate(1219.90 3070.30) scale(0.9950 1.03)" font-size="88.50" text-anchor="middle">500</text>
<text transform="translate(1428.20 3070.30) scale(0.9950 1.03)" font-size="88.50" text-anchor="middle">600</text>
<text transform="translate(1636.80 3070.30) scale(0.9950 1.03)" font-size="88.50" text-anchor="middle">700</text>
<text transform="translate(1844.90 3070.30) scale(0.9950 1.03)" font-size="88.50" text-anchor="middle">800</text>
<text transform="translate(112.50 2628.31) rotate(-90) scale(0.9955 1.03)" font-size="90.50">Band gap (eV)</text>
<text transform="translate(2118.90 2665.71) rotate(-90) scale(0.9992 1.03)" font-size="90.00">Refractive index</text>
<text transform="translate(613.91 3197.50) scale(0.9886 1.03)" font-size="90.00">Annealing temperature (°C)</text>
<text transform="translate(1019.2 3327.6) scale(1 1.03)" font-size="86">(</text>
<text transform="translate(1045.8 3327.6) scale(1 1.03)" font-size="86" font-weight="bold">b</text>
<text transform="translate(1095.1 3327.6) scale(1 1.03)" font-size="86">)</text>
</g></svg>
</body></html>
